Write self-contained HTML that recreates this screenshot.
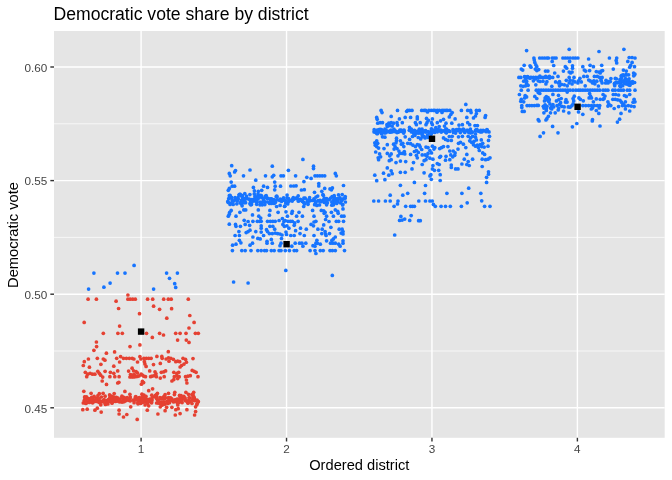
<!DOCTYPE html><html><head><meta charset="utf-8"><title>Democratic vote share by district</title><style>html,body{margin:0;padding:0;background:#fff;}svg{display:block;will-change:transform;}text{font-family:"Liberation Sans",Arial,sans-serif;}</style></head><body><svg width="672" height="480" viewBox="0 0 672 480"><rect x="54.0" y="31.0" width="610.67" height="406.80" fill="#E5E5E5"/><line x1="54.0" x2="664.67" y1="123.80" y2="123.80" stroke="#fff" stroke-width="0.71"/><line x1="54.0" x2="664.67" y1="237.40" y2="237.40" stroke="#fff" stroke-width="0.71"/><line x1="54.0" x2="664.67" y1="351.00" y2="351.00" stroke="#fff" stroke-width="0.71"/><line x1="54.0" x2="664.67" y1="67.00" y2="67.00" stroke="#fff" stroke-width="1.42"/><line x1="54.0" x2="664.67" y1="180.60" y2="180.60" stroke="#fff" stroke-width="1.42"/><line x1="54.0" x2="664.67" y1="294.20" y2="294.20" stroke="#fff" stroke-width="1.42"/><line x1="54.0" x2="664.67" y1="407.80" y2="407.80" stroke="#fff" stroke-width="1.42"/><line x1="141.10" x2="141.10" y1="31.0" y2="437.8" stroke="#fff" stroke-width="1.42"/><line x1="286.53" x2="286.53" y1="31.0" y2="437.8" stroke="#fff" stroke-width="1.42"/><line x1="431.96" x2="431.96" y1="31.0" y2="437.8" stroke="#fff" stroke-width="1.42"/><line x1="577.39" x2="577.39" y1="31.0" y2="437.8" stroke="#fff" stroke-width="1.42"/><g fill="#E54132"><circle cx="88.1" cy="299.2" r="1.85"/><circle cx="96.4" cy="299.2" r="1.85"/><circle cx="127.9" cy="299.2" r="1.85"/><circle cx="130.2" cy="299.2" r="1.85"/><circle cx="132.7" cy="299.2" r="1.85"/><circle cx="135.3" cy="299.2" r="1.85"/><circle cx="147.6" cy="299.2" r="1.85"/><circle cx="152.7" cy="299.2" r="1.85"/><circle cx="163.7" cy="299.2" r="1.85"/><circle cx="168.3" cy="299.2" r="1.85"/><circle cx="171.2" cy="299.2" r="1.85"/><circle cx="188.3" cy="299.2" r="1.85"/><circle cx="127.9" cy="295.0" r="1.85"/><circle cx="116.1" cy="301.2" r="1.85"/><circle cx="118.6" cy="308.5" r="1.85"/><circle cx="153.6" cy="306.2" r="1.85"/><circle cx="159.6" cy="309.3" r="1.85"/><circle cx="171.6" cy="308.7" r="1.85"/><circle cx="139.5" cy="313.7" r="1.85"/><circle cx="189.8" cy="315.5" r="1.85"/><circle cx="166.8" cy="318.2" r="1.85"/><circle cx="84.2" cy="322.4" r="1.85"/><circle cx="194.1" cy="322.4" r="1.85"/><circle cx="119.6" cy="326.1" r="1.85"/><circle cx="189.0" cy="328.0" r="1.85"/><circle cx="103.3" cy="333.3" r="1.85"/><circle cx="117.9" cy="333.3" r="1.85"/><circle cx="122.3" cy="333.3" r="1.85"/><circle cx="146.5" cy="333.3" r="1.85"/><circle cx="159.6" cy="333.3" r="1.85"/><circle cx="175.7" cy="333.3" r="1.85"/><circle cx="180.1" cy="333.3" r="1.85"/><circle cx="186.0" cy="333.3" r="1.85"/><circle cx="195.4" cy="333.3" r="1.85"/><circle cx="198.3" cy="333.3" r="1.85"/><circle cx="163.5" cy="335.0" r="1.85"/><circle cx="152.3" cy="337.4" r="1.85"/><circle cx="177.6" cy="340.1" r="1.85"/><circle cx="186.3" cy="340.1" r="1.85"/><circle cx="189.0" cy="342.4" r="1.85"/><circle cx="96.4" cy="342.0" r="1.85"/><circle cx="96.6" cy="346.6" r="1.85"/><circle cx="93.9" cy="350.3" r="1.85"/><circle cx="130.0" cy="346.6" r="1.85"/><circle cx="139.9" cy="344.9" r="1.85"/><circle cx="114.6" cy="351.9" r="1.85"/><circle cx="106.4" cy="353.2" r="1.85"/><circle cx="168.3" cy="351.7" r="1.85"/><circle cx="88.4" cy="359.0" r="1.85"/><circle cx="97.3" cy="358.3" r="1.85"/><circle cx="103.3" cy="359.0" r="1.85"/><circle cx="104.9" cy="360.2" r="1.85"/><circle cx="116.7" cy="358.3" r="1.85"/><circle cx="120.6" cy="356.6" r="1.85"/><circle cx="123.5" cy="358.3" r="1.85"/><circle cx="126.4" cy="358.3" r="1.85"/><circle cx="129.3" cy="358.3" r="1.85"/><circle cx="132.2" cy="358.3" r="1.85"/><circle cx="133.9" cy="359.0" r="1.85"/><circle cx="139.9" cy="356.6" r="1.85"/><circle cx="140.9" cy="359.0" r="1.85"/><circle cx="119.6" cy="362.0" r="1.85"/><circle cx="137.5" cy="362.0" r="1.85"/><circle cx="84.3" cy="361.7" r="1.85"/><circle cx="83.3" cy="365.5" r="1.85"/><circle cx="89.4" cy="367.2" r="1.85"/><circle cx="100.9" cy="364.3" r="1.85"/><circle cx="113.8" cy="366.2" r="1.85"/><circle cx="85.3" cy="372.3" r="1.85"/><circle cx="87.7" cy="374.2" r="1.85"/><circle cx="90.1" cy="373.3" r="1.85"/><circle cx="92.5" cy="374.2" r="1.85"/><circle cx="94.9" cy="374.2" r="1.85"/><circle cx="86.7" cy="376.7" r="1.85"/><circle cx="97.8" cy="371.3" r="1.85"/><circle cx="99.3" cy="373.3" r="1.85"/><circle cx="100.7" cy="375.2" r="1.85"/><circle cx="102.7" cy="377.1" r="1.85"/><circle cx="105.1" cy="371.3" r="1.85"/><circle cx="110.4" cy="372.3" r="1.85"/><circle cx="113.8" cy="373.3" r="1.85"/><circle cx="114.8" cy="376.7" r="1.85"/><circle cx="109.9" cy="376.7" r="1.85"/><circle cx="117.7" cy="370.9" r="1.85"/><circle cx="119.1" cy="376.7" r="1.85"/><circle cx="102.2" cy="381.0" r="1.85"/><circle cx="106.5" cy="384.4" r="1.85"/><circle cx="117.7" cy="383.0" r="1.85"/><circle cx="132.1" cy="368.2" r="1.85"/><circle cx="128.6" cy="371.1" r="1.85"/><circle cx="133.6" cy="370.8" r="1.85"/><circle cx="136.1" cy="371.7" r="1.85"/><circle cx="137.4" cy="372.9" r="1.85"/><circle cx="130.5" cy="374.5" r="1.85"/><circle cx="132.4" cy="375.1" r="1.85"/><circle cx="134.2" cy="374.5" r="1.85"/><circle cx="129.9" cy="377.0" r="1.85"/><circle cx="131.8" cy="377.0" r="1.85"/><circle cx="133.6" cy="377.0" r="1.85"/><circle cx="135.5" cy="376.7" r="1.85"/><circle cx="137.4" cy="376.4" r="1.85"/><circle cx="139.2" cy="375.8" r="1.85"/><circle cx="141.1" cy="374.2" r="1.85"/><circle cx="142.4" cy="375.1" r="1.85"/><circle cx="143.6" cy="376.1" r="1.85"/><circle cx="145.5" cy="376.7" r="1.85"/><circle cx="142.4" cy="381.4" r="1.85"/><circle cx="143.6" cy="382.6" r="1.85"/><circle cx="141.4" cy="384.2" r="1.85"/><circle cx="118.9" cy="382.3" r="1.85"/><circle cx="144.9" cy="363.9" r="1.85"/><circle cx="146.1" cy="366.4" r="1.85"/><circle cx="124.9" cy="391.4" r="1.85"/><circle cx="143.9" cy="358.3" r="1.85"/><circle cx="146.3" cy="358.3" r="1.85"/><circle cx="148.7" cy="358.3" r="1.85"/><circle cx="151.1" cy="358.3" r="1.85"/><circle cx="156.9" cy="356.4" r="1.85"/><circle cx="161.8" cy="356.4" r="1.85"/><circle cx="162.2" cy="358.3" r="1.85"/><circle cx="166.1" cy="359.0" r="1.85"/><circle cx="168.5" cy="357.8" r="1.85"/><circle cx="170.9" cy="358.3" r="1.85"/><circle cx="173.4" cy="359.3" r="1.85"/><circle cx="175.8" cy="361.7" r="1.85"/><circle cx="177.7" cy="361.2" r="1.85"/><circle cx="179.7" cy="361.7" r="1.85"/><circle cx="169.0" cy="361.2" r="1.85"/><circle cx="183.0" cy="358.3" r="1.85"/><circle cx="185.5" cy="359.3" r="1.85"/><circle cx="186.4" cy="362.2" r="1.85"/><circle cx="184.0" cy="364.1" r="1.85"/><circle cx="181.6" cy="365.5" r="1.85"/><circle cx="180.1" cy="367.0" r="1.85"/><circle cx="193.0" cy="358.6" r="1.85"/><circle cx="144.4" cy="361.7" r="1.85"/><circle cx="153.5" cy="364.6" r="1.85"/><circle cx="160.3" cy="363.4" r="1.85"/><circle cx="149.7" cy="370.9" r="1.85"/><circle cx="155.0" cy="371.8" r="1.85"/><circle cx="156.0" cy="373.8" r="1.85"/><circle cx="154.5" cy="375.7" r="1.85"/><circle cx="161.3" cy="372.3" r="1.85"/><circle cx="163.7" cy="371.8" r="1.85"/><circle cx="165.6" cy="370.9" r="1.85"/><circle cx="150.6" cy="376.7" r="1.85"/><circle cx="152.1" cy="376.2" r="1.85"/><circle cx="156.4" cy="376.7" r="1.85"/><circle cx="160.3" cy="378.1" r="1.85"/><circle cx="164.2" cy="376.7" r="1.85"/><circle cx="173.8" cy="372.3" r="1.85"/><circle cx="176.8" cy="373.3" r="1.85"/><circle cx="178.7" cy="372.3" r="1.85"/><circle cx="174.3" cy="376.7" r="1.85"/><circle cx="176.8" cy="375.7" r="1.85"/><circle cx="179.2" cy="376.7" r="1.85"/><circle cx="177.7" cy="378.6" r="1.85"/><circle cx="173.8" cy="379.6" r="1.85"/><circle cx="171.9" cy="381.0" r="1.85"/><circle cx="185.5" cy="376.7" r="1.85"/><circle cx="187.9" cy="376.2" r="1.85"/><circle cx="190.3" cy="375.7" r="1.85"/><circle cx="192.2" cy="370.4" r="1.85"/><circle cx="194.2" cy="371.3" r="1.85"/><circle cx="196.1" cy="372.3" r="1.85"/><circle cx="198.0" cy="376.7" r="1.85"/><circle cx="186.4" cy="380.0" r="1.85"/><circle cx="186.9" cy="383.0" r="1.85"/><circle cx="152.6" cy="388.8" r="1.85"/><circle cx="148.7" cy="390.7" r="1.85"/><circle cx="82.8" cy="409.7" r="1.85"/><circle cx="87.2" cy="409.2" r="1.85"/><circle cx="94.9" cy="410.2" r="1.85"/><circle cx="97.3" cy="408.2" r="1.85"/><circle cx="101.2" cy="412.1" r="1.85"/><circle cx="119.1" cy="410.2" r="1.85"/><circle cx="119.1" cy="414.0" r="1.85"/><circle cx="123.5" cy="417.0" r="1.85"/><circle cx="126.8" cy="414.5" r="1.85"/><circle cx="130.7" cy="406.8" r="1.85"/><circle cx="137.2" cy="419.4" r="1.85"/><circle cx="83.3" cy="402.9" r="1.85"/><circle cx="103.1" cy="393.3" r="1.85"/><circle cx="99.3" cy="393.7" r="1.85"/><circle cx="91.1" cy="393.3" r="1.85"/><circle cx="83.8" cy="391.3" r="1.85"/><circle cx="147.3" cy="410.2" r="1.85"/><circle cx="148.7" cy="405.8" r="1.85"/><circle cx="157.9" cy="414.0" r="1.85"/><circle cx="160.3" cy="406.8" r="1.85"/><circle cx="165.1" cy="410.7" r="1.85"/><circle cx="166.6" cy="407.3" r="1.85"/><circle cx="171.9" cy="407.3" r="1.85"/><circle cx="175.8" cy="409.7" r="1.85"/><circle cx="178.2" cy="408.7" r="1.85"/><circle cx="175.3" cy="415.0" r="1.85"/><circle cx="180.1" cy="413.6" r="1.85"/><circle cx="186.9" cy="409.7" r="1.85"/><circle cx="195.6" cy="406.8" r="1.85"/><circle cx="195.6" cy="411.6" r="1.85"/><circle cx="194.6" cy="415.0" r="1.85"/><circle cx="157.4" cy="393.3" r="1.85"/><circle cx="168.5" cy="393.3" r="1.85"/><circle cx="174.8" cy="392.3" r="1.85"/><circle cx="185.9" cy="392.3" r="1.85"/><circle cx="193.7" cy="392.3" r="1.85"/><circle cx="141.9" cy="394.2" r="1.85"/><circle cx="121.6" cy="401.9" r="1.85"/><circle cx="92.6" cy="402.8" r="1.85"/><circle cx="146.0" cy="399.0" r="1.85"/><circle cx="142.8" cy="400.3" r="1.85"/><circle cx="88.6" cy="398.7" r="1.85"/><circle cx="94.8" cy="400.0" r="1.85"/><circle cx="133.2" cy="400.2" r="1.85"/><circle cx="110.0" cy="398.4" r="1.85"/><circle cx="156.6" cy="403.0" r="1.85"/><circle cx="130.0" cy="398.5" r="1.85"/><circle cx="196.8" cy="404.7" r="1.85"/><circle cx="117.7" cy="401.1" r="1.85"/><circle cx="100.9" cy="401.3" r="1.85"/><circle cx="178.3" cy="401.2" r="1.85"/><circle cx="105.1" cy="396.2" r="1.85"/><circle cx="127.2" cy="397.7" r="1.85"/><circle cx="147.4" cy="400.5" r="1.85"/><circle cx="108.0" cy="400.0" r="1.85"/><circle cx="162.7" cy="397.5" r="1.85"/><circle cx="151.8" cy="400.6" r="1.85"/><circle cx="136.5" cy="398.1" r="1.85"/><circle cx="164.8" cy="404.2" r="1.85"/><circle cx="112.4" cy="396.7" r="1.85"/><circle cx="185.1" cy="398.1" r="1.85"/><circle cx="168.3" cy="397.8" r="1.85"/><circle cx="97.9" cy="395.6" r="1.85"/><circle cx="101.8" cy="401.8" r="1.85"/><circle cx="140.6" cy="403.5" r="1.85"/><circle cx="172.4" cy="400.6" r="1.85"/><circle cx="150.3" cy="401.3" r="1.85"/><circle cx="164.4" cy="397.9" r="1.85"/><circle cx="152.8" cy="397.0" r="1.85"/><circle cx="181.1" cy="398.2" r="1.85"/><circle cx="193.1" cy="395.7" r="1.85"/><circle cx="91.3" cy="400.2" r="1.85"/><circle cx="165.1" cy="394.5" r="1.85"/><circle cx="179.0" cy="399.0" r="1.85"/><circle cx="161.3" cy="402.2" r="1.85"/><circle cx="86.9" cy="398.0" r="1.85"/><circle cx="97.8" cy="400.0" r="1.85"/><circle cx="91.1" cy="399.8" r="1.85"/><circle cx="112.8" cy="398.2" r="1.85"/><circle cx="129.3" cy="400.4" r="1.85"/><circle cx="136.0" cy="398.8" r="1.85"/><circle cx="147.6" cy="403.3" r="1.85"/><circle cx="183.8" cy="396.3" r="1.85"/><circle cx="116.4" cy="397.4" r="1.85"/><circle cx="186.2" cy="400.9" r="1.85"/><circle cx="194.6" cy="400.6" r="1.85"/><circle cx="111.0" cy="401.0" r="1.85"/><circle cx="111.2" cy="396.0" r="1.85"/><circle cx="114.6" cy="399.9" r="1.85"/><circle cx="84.8" cy="397.3" r="1.85"/><circle cx="149.5" cy="400.9" r="1.85"/><circle cx="194.1" cy="398.4" r="1.85"/><circle cx="155.4" cy="396.6" r="1.85"/><circle cx="162.2" cy="405.1" r="1.85"/><circle cx="174.2" cy="401.5" r="1.85"/><circle cx="185.0" cy="400.4" r="1.85"/><circle cx="130.3" cy="397.0" r="1.85"/><circle cx="96.2" cy="399.0" r="1.85"/><circle cx="92.1" cy="398.9" r="1.85"/><circle cx="108.3" cy="400.9" r="1.85"/><circle cx="90.4" cy="401.7" r="1.85"/><circle cx="84.3" cy="400.3" r="1.85"/><circle cx="126.2" cy="400.6" r="1.85"/><circle cx="87.2" cy="402.2" r="1.85"/><circle cx="101.4" cy="397.0" r="1.85"/><circle cx="113.4" cy="398.1" r="1.85"/><circle cx="98.5" cy="401.7" r="1.85"/><circle cx="182.1" cy="402.6" r="1.85"/><circle cx="140.0" cy="399.5" r="1.85"/><circle cx="94.2" cy="401.6" r="1.85"/><circle cx="114.8" cy="401.1" r="1.85"/><circle cx="179.8" cy="399.9" r="1.85"/><circle cx="193.9" cy="400.1" r="1.85"/><circle cx="145.2" cy="401.6" r="1.85"/><circle cx="87.4" cy="402.3" r="1.85"/><circle cx="145.1" cy="404.9" r="1.85"/><circle cx="164.5" cy="398.9" r="1.85"/><circle cx="114.4" cy="398.5" r="1.85"/><circle cx="173.2" cy="400.8" r="1.85"/><circle cx="145.7" cy="400.0" r="1.85"/><circle cx="110.0" cy="397.2" r="1.85"/><circle cx="177.8" cy="404.9" r="1.85"/><circle cx="177.2" cy="399.1" r="1.85"/><circle cx="178.6" cy="399.5" r="1.85"/><circle cx="143.9" cy="397.7" r="1.85"/><circle cx="125.3" cy="400.2" r="1.85"/><circle cx="116.5" cy="399.7" r="1.85"/><circle cx="114.2" cy="397.2" r="1.85"/><circle cx="135.8" cy="396.5" r="1.85"/><circle cx="194.3" cy="398.3" r="1.85"/><circle cx="110.4" cy="401.0" r="1.85"/><circle cx="107.0" cy="400.7" r="1.85"/><circle cx="188.0" cy="403.2" r="1.85"/><circle cx="181.1" cy="395.7" r="1.85"/><circle cx="176.4" cy="400.1" r="1.85"/><circle cx="94.1" cy="396.4" r="1.85"/><circle cx="174.4" cy="394.6" r="1.85"/><circle cx="170.7" cy="397.9" r="1.85"/><circle cx="175.2" cy="399.8" r="1.85"/><circle cx="122.6" cy="401.9" r="1.85"/><circle cx="129.9" cy="394.3" r="1.85"/><circle cx="167.8" cy="403.4" r="1.85"/><circle cx="103.9" cy="400.7" r="1.85"/><circle cx="188.5" cy="400.7" r="1.85"/><circle cx="177.2" cy="402.7" r="1.85"/><circle cx="197.2" cy="403.6" r="1.85"/><circle cx="160.0" cy="397.6" r="1.85"/><circle cx="99.4" cy="402.4" r="1.85"/><circle cx="85.9" cy="403.4" r="1.85"/><circle cx="145.0" cy="398.9" r="1.85"/><circle cx="191.9" cy="394.6" r="1.85"/><circle cx="179.5" cy="401.8" r="1.85"/><circle cx="108.6" cy="399.6" r="1.85"/><circle cx="112.0" cy="401.8" r="1.85"/><circle cx="151.9" cy="399.4" r="1.85"/><circle cx="99.4" cy="402.4" r="1.85"/><circle cx="189.1" cy="397.8" r="1.85"/><circle cx="151.5" cy="402.0" r="1.85"/><circle cx="188.5" cy="394.3" r="1.85"/><circle cx="142.1" cy="402.5" r="1.85"/><circle cx="145.6" cy="399.1" r="1.85"/><circle cx="135.0" cy="399.5" r="1.85"/><circle cx="105.4" cy="404.4" r="1.85"/><circle cx="104.2" cy="399.7" r="1.85"/><circle cx="138.8" cy="399.1" r="1.85"/><circle cx="121.9" cy="396.2" r="1.85"/><circle cx="144.0" cy="395.2" r="1.85"/><circle cx="96.5" cy="398.0" r="1.85"/><circle cx="148.8" cy="399.6" r="1.85"/><circle cx="173.3" cy="401.8" r="1.85"/><circle cx="142.8" cy="395.4" r="1.85"/><circle cx="189.4" cy="397.9" r="1.85"/><circle cx="135.4" cy="397.2" r="1.85"/><circle cx="143.3" cy="397.5" r="1.85"/><circle cx="164.1" cy="396.4" r="1.85"/><circle cx="139.4" cy="400.6" r="1.85"/><circle cx="192.8" cy="397.9" r="1.85"/><circle cx="192.8" cy="394.4" r="1.85"/><circle cx="114.2" cy="393.6" r="1.85"/><circle cx="181.1" cy="397.2" r="1.85"/><circle cx="100.1" cy="401.7" r="1.85"/><circle cx="92.7" cy="401.6" r="1.85"/><circle cx="112.0" cy="403.2" r="1.85"/><circle cx="174.6" cy="401.4" r="1.85"/><circle cx="187.6" cy="402.0" r="1.85"/><circle cx="160.4" cy="403.1" r="1.85"/><circle cx="100.8" cy="404.8" r="1.85"/><circle cx="109.6" cy="394.9" r="1.85"/><circle cx="194.0" cy="397.1" r="1.85"/><circle cx="198.3" cy="401.5" r="1.85"/><circle cx="180.2" cy="401.1" r="1.85"/><circle cx="143.7" cy="402.0" r="1.85"/><circle cx="123.4" cy="400.4" r="1.85"/><circle cx="167.5" cy="401.8" r="1.85"/><circle cx="86.5" cy="396.9" r="1.85"/><circle cx="86.4" cy="398.6" r="1.85"/><circle cx="122.5" cy="397.3" r="1.85"/><circle cx="91.7" cy="397.3" r="1.85"/><circle cx="197.8" cy="401.3" r="1.85"/><circle cx="96.4" cy="399.5" r="1.85"/><circle cx="174.0" cy="400.4" r="1.85"/><circle cx="115.5" cy="401.5" r="1.85"/><circle cx="189.3" cy="401.7" r="1.85"/><circle cx="178.6" cy="399.5" r="1.85"/><circle cx="190.2" cy="401.1" r="1.85"/><circle cx="150.0" cy="399.2" r="1.85"/><circle cx="90.9" cy="398.5" r="1.85"/><circle cx="163.6" cy="398.7" r="1.85"/><circle cx="192.4" cy="400.1" r="1.85"/><circle cx="157.4" cy="400.0" r="1.85"/><circle cx="182.9" cy="398.5" r="1.85"/><circle cx="92.0" cy="401.5" r="1.85"/><circle cx="123.4" cy="397.3" r="1.85"/><circle cx="148.0" cy="401.5" r="1.85"/><circle cx="99.2" cy="398.7" r="1.85"/><circle cx="145.0" cy="399.7" r="1.85"/><circle cx="102.9" cy="400.9" r="1.85"/><circle cx="90.1" cy="400.3" r="1.85"/><circle cx="119.4" cy="401.8" r="1.85"/><circle cx="171.8" cy="398.8" r="1.85"/><circle cx="104.8" cy="402.7" r="1.85"/><circle cx="124.3" cy="401.6" r="1.85"/><circle cx="86.1" cy="399.8" r="1.85"/><circle cx="168.8" cy="397.9" r="1.85"/><circle cx="139.0" cy="399.0" r="1.85"/><circle cx="192.0" cy="403.5" r="1.85"/><circle cx="134.1" cy="402.7" r="1.85"/><circle cx="141.3" cy="401.0" r="1.85"/><circle cx="142.7" cy="397.3" r="1.85"/><circle cx="163.5" cy="402.1" r="1.85"/><circle cx="180.2" cy="399.3" r="1.85"/><circle cx="165.7" cy="397.8" r="1.85"/><circle cx="124.3" cy="397.5" r="1.85"/><circle cx="90.6" cy="400.3" r="1.85"/><circle cx="169.7" cy="400.4" r="1.85"/><circle cx="113.7" cy="400.2" r="1.85"/><circle cx="181.2" cy="400.6" r="1.85"/><circle cx="184.6" cy="398.5" r="1.85"/><circle cx="112.2" cy="397.7" r="1.85"/><circle cx="118.1" cy="398.1" r="1.85"/><circle cx="135.7" cy="400.0" r="1.85"/><circle cx="114.6" cy="397.9" r="1.85"/><circle cx="147.3" cy="399.8" r="1.85"/><circle cx="120.0" cy="399.5" r="1.85"/><circle cx="128.3" cy="399.7" r="1.85"/><circle cx="139.0" cy="397.8" r="1.85"/><circle cx="142.4" cy="399.6" r="1.85"/><circle cx="84.9" cy="399.5" r="1.85"/><circle cx="130.3" cy="400.8" r="1.85"/><circle cx="89.1" cy="401.9" r="1.85"/><circle cx="111.1" cy="399.9" r="1.85"/><circle cx="151.8" cy="395.2" r="1.85"/><circle cx="160.0" cy="398.8" r="1.85"/><circle cx="166.8" cy="401.5" r="1.85"/><circle cx="121.9" cy="397.8" r="1.85"/><circle cx="197.7" cy="402.2" r="1.85"/><circle cx="158.4" cy="403.1" r="1.85"/><circle cx="89.3" cy="402.5" r="1.85"/><circle cx="156.6" cy="394.7" r="1.85"/><circle cx="168.8" cy="400.2" r="1.85"/><circle cx="144.6" cy="398.2" r="1.85"/><circle cx="142.4" cy="402.1" r="1.85"/><circle cx="179.5" cy="395.4" r="1.85"/><circle cx="151.6" cy="402.8" r="1.85"/><circle cx="164.2" cy="397.0" r="1.85"/><circle cx="110.8" cy="401.0" r="1.85"/><circle cx="125.9" cy="399.9" r="1.85"/><circle cx="96.4" cy="401.4" r="1.85"/><circle cx="156.6" cy="396.6" r="1.85"/><circle cx="156.4" cy="398.3" r="1.85"/><circle cx="84.7" cy="396.8" r="1.85"/><circle cx="176.2" cy="399.6" r="1.85"/><circle cx="146.0" cy="396.4" r="1.85"/><circle cx="160.3" cy="403.6" r="1.85"/><circle cx="113.4" cy="401.4" r="1.85"/><circle cx="92.9" cy="399.2" r="1.85"/><circle cx="107.9" cy="403.9" r="1.85"/><circle cx="169.5" cy="402.7" r="1.85"/><circle cx="128.4" cy="399.1" r="1.85"/><circle cx="139.5" cy="397.7" r="1.85"/><circle cx="155.4" cy="395.4" r="1.85"/><circle cx="158.3" cy="400.9" r="1.85"/><circle cx="113.6" cy="400.3" r="1.85"/><circle cx="169.9" cy="398.4" r="1.85"/><circle cx="85.7" cy="402.9" r="1.85"/><circle cx="91.3" cy="399.1" r="1.85"/><circle cx="164.0" cy="403.6" r="1.85"/><circle cx="162.1" cy="398.8" r="1.85"/><circle cx="137.8" cy="402.7" r="1.85"/><circle cx="138.0" cy="403.8" r="1.85"/><circle cx="107.3" cy="403.5" r="1.85"/><circle cx="197.0" cy="400.1" r="1.85"/><circle cx="137.2" cy="399.4" r="1.85"/><circle cx="178.8" cy="402.5" r="1.85"/><circle cx="115.2" cy="399.0" r="1.85"/><circle cx="108.5" cy="401.3" r="1.85"/><circle cx="151.3" cy="399.0" r="1.85"/></g><g fill="#1674FF"><circle cx="134.1" cy="265.4" r="1.85"/><circle cx="93.9" cy="273.1" r="1.85"/><circle cx="117.5" cy="273.1" r="1.85"/><circle cx="125.0" cy="273.1" r="1.85"/><circle cx="166.6" cy="273.1" r="1.85"/><circle cx="177.4" cy="273.1" r="1.85"/><circle cx="169.5" cy="278.3" r="1.85"/><circle cx="110.1" cy="283.1" r="1.85"/><circle cx="103.9" cy="287.2" r="1.85"/><circle cx="174.7" cy="283.7" r="1.85"/><circle cx="175.7" cy="287.4" r="1.85"/><circle cx="88.6" cy="289.1" r="1.85"/><circle cx="153.6" cy="289.1" r="1.85"/><circle cx="231.7" cy="165.7" r="1.85"/><circle cx="234.6" cy="172.0" r="1.85"/><circle cx="235.5" cy="170.5" r="1.85"/><circle cx="229.3" cy="173.4" r="1.85"/><circle cx="230.2" cy="175.8" r="1.85"/><circle cx="250.0" cy="170.0" r="1.85"/><circle cx="243.5" cy="175.8" r="1.85"/><circle cx="272.3" cy="166.2" r="1.85"/><circle cx="265.5" cy="175.8" r="1.85"/><circle cx="272.3" cy="176.8" r="1.85"/><circle cx="273.7" cy="175.3" r="1.85"/><circle cx="281.0" cy="175.8" r="1.85"/><circle cx="283.4" cy="175.8" r="1.85"/><circle cx="255.8" cy="180.2" r="1.85"/><circle cx="231.2" cy="182.1" r="1.85"/><circle cx="232.2" cy="186.2" r="1.85"/><circle cx="234.6" cy="186.2" r="1.85"/><circle cx="229.3" cy="188.4" r="1.85"/><circle cx="228.3" cy="190.3" r="1.85"/><circle cx="253.4" cy="187.4" r="1.85"/><circle cx="254.4" cy="190.8" r="1.85"/><circle cx="258.3" cy="191.3" r="1.85"/><circle cx="261.7" cy="190.3" r="1.85"/><circle cx="263.6" cy="186.2" r="1.85"/><circle cx="267.5" cy="187.4" r="1.85"/><circle cx="274.7" cy="182.1" r="1.85"/><circle cx="275.2" cy="186.2" r="1.85"/><circle cx="274.7" cy="189.8" r="1.85"/><circle cx="280.5" cy="186.2" r="1.85"/><circle cx="302.9" cy="159.4" r="1.85"/><circle cx="313.5" cy="166.2" r="1.85"/><circle cx="313.5" cy="168.6" r="1.85"/><circle cx="288.4" cy="170.3" r="1.85"/><circle cx="295.6" cy="175.8" r="1.85"/><circle cx="306.8" cy="177.3" r="1.85"/><circle cx="311.1" cy="178.4" r="1.85"/><circle cx="315.0" cy="175.8" r="1.85"/><circle cx="317.4" cy="175.8" r="1.85"/><circle cx="319.8" cy="175.8" r="1.85"/><circle cx="322.2" cy="175.8" r="1.85"/><circle cx="324.7" cy="175.8" r="1.85"/><circle cx="335.3" cy="173.4" r="1.85"/><circle cx="336.3" cy="175.8" r="1.85"/><circle cx="303.9" cy="181.6" r="1.85"/><circle cx="290.8" cy="186.0" r="1.85"/><circle cx="293.7" cy="186.0" r="1.85"/><circle cx="296.1" cy="185.8" r="1.85"/><circle cx="301.4" cy="190.0" r="1.85"/><circle cx="304.3" cy="189.7" r="1.85"/><circle cx="318.8" cy="183.6" r="1.85"/><circle cx="318.8" cy="186.0" r="1.85"/><circle cx="324.7" cy="188.4" r="1.85"/><circle cx="321.8" cy="191.3" r="1.85"/><circle cx="330.0" cy="188.9" r="1.85"/><circle cx="332.4" cy="187.9" r="1.85"/><circle cx="331.4" cy="189.8" r="1.85"/><circle cx="343.5" cy="185.5" r="1.85"/><circle cx="314.5" cy="192.3" r="1.85"/><circle cx="231.2" cy="210.4" r="1.85"/><circle cx="229.7" cy="212.3" r="1.85"/><circle cx="229.3" cy="214.2" r="1.85"/><circle cx="228.3" cy="216.2" r="1.85"/><circle cx="239.9" cy="212.3" r="1.85"/><circle cx="243.8" cy="209.9" r="1.85"/><circle cx="245.7" cy="209.9" r="1.85"/><circle cx="236.0" cy="216.2" r="1.85"/><circle cx="252.5" cy="214.9" r="1.85"/><circle cx="258.3" cy="209.9" r="1.85"/><circle cx="269.9" cy="210.4" r="1.85"/><circle cx="269.4" cy="215.2" r="1.85"/><circle cx="278.1" cy="212.3" r="1.85"/><circle cx="258.8" cy="216.2" r="1.85"/><circle cx="260.7" cy="218.1" r="1.85"/><circle cx="244.2" cy="220.3" r="1.85"/><circle cx="248.1" cy="221.5" r="1.85"/><circle cx="252.9" cy="221.3" r="1.85"/><circle cx="257.3" cy="221.3" r="1.85"/><circle cx="259.7" cy="221.3" r="1.85"/><circle cx="261.2" cy="221.3" r="1.85"/><circle cx="267.5" cy="221.3" r="1.85"/><circle cx="270.4" cy="221.3" r="1.85"/><circle cx="272.8" cy="221.3" r="1.85"/><circle cx="275.2" cy="221.3" r="1.85"/><circle cx="279.1" cy="220.5" r="1.85"/><circle cx="282.4" cy="218.6" r="1.85"/><circle cx="283.9" cy="221.5" r="1.85"/><circle cx="285.3" cy="220.5" r="1.85"/><circle cx="229.3" cy="224.2" r="1.85"/><circle cx="235.5" cy="224.4" r="1.85"/><circle cx="236.0" cy="226.3" r="1.85"/><circle cx="240.4" cy="226.3" r="1.85"/><circle cx="245.2" cy="224.4" r="1.85"/><circle cx="249.6" cy="225.3" r="1.85"/><circle cx="261.2" cy="225.8" r="1.85"/><circle cx="261.2" cy="228.2" r="1.85"/><circle cx="269.9" cy="226.3" r="1.85"/><circle cx="272.8" cy="226.3" r="1.85"/><circle cx="274.7" cy="229.2" r="1.85"/><circle cx="282.9" cy="224.4" r="1.85"/><circle cx="284.4" cy="226.3" r="1.85"/><circle cx="238.9" cy="231.6" r="1.85"/><circle cx="246.2" cy="232.6" r="1.85"/><circle cx="248.1" cy="231.6" r="1.85"/><circle cx="250.0" cy="230.2" r="1.85"/><circle cx="255.8" cy="231.6" r="1.85"/><circle cx="261.2" cy="232.1" r="1.85"/><circle cx="266.5" cy="229.7" r="1.85"/><circle cx="267.5" cy="231.6" r="1.85"/><circle cx="269.4" cy="233.6" r="1.85"/><circle cx="272.3" cy="233.6" r="1.85"/><circle cx="275.2" cy="233.1" r="1.85"/><circle cx="277.6" cy="233.6" r="1.85"/><circle cx="280.0" cy="234.0" r="1.85"/><circle cx="282.0" cy="235.0" r="1.85"/><circle cx="263.6" cy="235.5" r="1.85"/><circle cx="235.1" cy="235.5" r="1.85"/><circle cx="239.4" cy="235.5" r="1.85"/><circle cx="252.9" cy="237.0" r="1.85"/><circle cx="257.8" cy="238.4" r="1.85"/><circle cx="260.2" cy="238.9" r="1.85"/><circle cx="239.4" cy="240.3" r="1.85"/><circle cx="240.9" cy="242.8" r="1.85"/><circle cx="236.0" cy="244.2" r="1.85"/><circle cx="232.6" cy="245.2" r="1.85"/><circle cx="252.5" cy="243.2" r="1.85"/><circle cx="250.0" cy="245.2" r="1.85"/><circle cx="267.0" cy="241.3" r="1.85"/><circle cx="267.0" cy="243.2" r="1.85"/><circle cx="271.3" cy="239.4" r="1.85"/><circle cx="272.3" cy="243.2" r="1.85"/><circle cx="281.0" cy="243.2" r="1.85"/><circle cx="292.3" cy="211.3" r="1.85"/><circle cx="291.8" cy="213.3" r="1.85"/><circle cx="299.0" cy="212.3" r="1.85"/><circle cx="312.6" cy="210.4" r="1.85"/><circle cx="321.3" cy="210.4" r="1.85"/><circle cx="323.7" cy="210.8" r="1.85"/><circle cx="325.1" cy="212.3" r="1.85"/><circle cx="324.2" cy="213.3" r="1.85"/><circle cx="331.4" cy="212.3" r="1.85"/><circle cx="335.3" cy="209.9" r="1.85"/><circle cx="337.7" cy="211.3" r="1.85"/><circle cx="338.2" cy="213.3" r="1.85"/><circle cx="343.0" cy="208.9" r="1.85"/><circle cx="286.0" cy="211.8" r="1.85"/><circle cx="287.4" cy="216.2" r="1.85"/><circle cx="296.6" cy="216.2" r="1.85"/><circle cx="302.4" cy="216.2" r="1.85"/><circle cx="314.0" cy="216.2" r="1.85"/><circle cx="326.6" cy="216.2" r="1.85"/><circle cx="333.4" cy="216.2" r="1.85"/><circle cx="341.6" cy="216.2" r="1.85"/><circle cx="344.0" cy="216.2" r="1.85"/><circle cx="287.9" cy="221.3" r="1.85"/><circle cx="290.3" cy="221.3" r="1.85"/><circle cx="292.3" cy="221.3" r="1.85"/><circle cx="294.7" cy="222.9" r="1.85"/><circle cx="294.2" cy="225.3" r="1.85"/><circle cx="298.1" cy="221.3" r="1.85"/><circle cx="314.0" cy="222.0" r="1.85"/><circle cx="315.9" cy="221.3" r="1.85"/><circle cx="325.6" cy="219.5" r="1.85"/><circle cx="329.0" cy="221.5" r="1.85"/><circle cx="336.3" cy="221.3" r="1.85"/><circle cx="338.7" cy="221.3" r="1.85"/><circle cx="343.5" cy="221.3" r="1.85"/><circle cx="311.1" cy="224.4" r="1.85"/><circle cx="313.5" cy="225.8" r="1.85"/><circle cx="323.7" cy="224.9" r="1.85"/><circle cx="286.9" cy="225.8" r="1.85"/><circle cx="288.9" cy="228.2" r="1.85"/><circle cx="300.5" cy="228.2" r="1.85"/><circle cx="306.3" cy="229.2" r="1.85"/><circle cx="295.6" cy="230.7" r="1.85"/><circle cx="317.9" cy="229.2" r="1.85"/><circle cx="322.2" cy="229.2" r="1.85"/><circle cx="330.9" cy="227.3" r="1.85"/><circle cx="339.2" cy="229.2" r="1.85"/><circle cx="342.1" cy="229.2" r="1.85"/><circle cx="343.0" cy="231.6" r="1.85"/><circle cx="341.1" cy="233.1" r="1.85"/><circle cx="343.0" cy="234.0" r="1.85"/><circle cx="325.1" cy="231.6" r="1.85"/><circle cx="325.6" cy="234.0" r="1.85"/><circle cx="326.1" cy="235.5" r="1.85"/><circle cx="321.8" cy="233.6" r="1.85"/><circle cx="329.5" cy="233.6" r="1.85"/><circle cx="286.0" cy="232.1" r="1.85"/><circle cx="286.5" cy="234.5" r="1.85"/><circle cx="290.8" cy="235.5" r="1.85"/><circle cx="294.2" cy="235.5" r="1.85"/><circle cx="300.0" cy="233.6" r="1.85"/><circle cx="304.3" cy="235.5" r="1.85"/><circle cx="314.0" cy="235.5" r="1.85"/><circle cx="335.3" cy="237.0" r="1.85"/><circle cx="333.4" cy="238.9" r="1.85"/><circle cx="331.9" cy="240.3" r="1.85"/><circle cx="316.9" cy="240.3" r="1.85"/><circle cx="315.9" cy="243.2" r="1.85"/><circle cx="326.6" cy="240.8" r="1.85"/><circle cx="343.0" cy="240.8" r="1.85"/><circle cx="343.0" cy="243.2" r="1.85"/><circle cx="295.2" cy="243.2" r="1.85"/><circle cx="299.5" cy="243.2" r="1.85"/><circle cx="301.9" cy="243.2" r="1.85"/><circle cx="305.8" cy="243.2" r="1.85"/><circle cx="320.3" cy="244.2" r="1.85"/><circle cx="330.5" cy="243.2" r="1.85"/><circle cx="332.9" cy="243.2" r="1.85"/><circle cx="335.3" cy="243.2" r="1.85"/><circle cx="338.7" cy="244.2" r="1.85"/><circle cx="232.4" cy="250.6" r="1.85"/><circle cx="241.8" cy="250.6" r="1.85"/><circle cx="245.2" cy="250.6" r="1.85"/><circle cx="251.0" cy="250.6" r="1.85"/><circle cx="257.8" cy="250.6" r="1.85"/><circle cx="261.2" cy="250.6" r="1.85"/><circle cx="264.6" cy="250.6" r="1.85"/><circle cx="266.5" cy="250.6" r="1.85"/><circle cx="271.3" cy="250.6" r="1.85"/><circle cx="274.2" cy="250.6" r="1.85"/><circle cx="279.1" cy="250.6" r="1.85"/><circle cx="281.0" cy="250.6" r="1.85"/><circle cx="285.3" cy="250.6" r="1.85"/><circle cx="289.4" cy="250.6" r="1.85"/><circle cx="294.2" cy="250.6" r="1.85"/><circle cx="296.6" cy="250.6" r="1.85"/><circle cx="310.1" cy="250.6" r="1.85"/><circle cx="315.0" cy="250.6" r="1.85"/><circle cx="320.3" cy="250.6" r="1.85"/><circle cx="323.2" cy="250.6" r="1.85"/><circle cx="330.0" cy="250.6" r="1.85"/><circle cx="332.4" cy="250.6" r="1.85"/><circle cx="335.3" cy="250.6" r="1.85"/><circle cx="344.5" cy="250.6" r="1.85"/><circle cx="315.9" cy="253.5" r="1.85"/><circle cx="280.0" cy="245.7" r="1.85"/><circle cx="281.5" cy="238.5" r="1.85"/><circle cx="291.8" cy="246.2" r="1.85"/><circle cx="302.9" cy="246.2" r="1.85"/><circle cx="313.0" cy="245.7" r="1.85"/><circle cx="315.0" cy="246.2" r="1.85"/><circle cx="317.4" cy="243.3" r="1.85"/><circle cx="340.1" cy="246.2" r="1.85"/><circle cx="285.8" cy="270.4" r="1.85"/><circle cx="233.6" cy="282.0" r="1.85"/><circle cx="248.1" cy="283.0" r="1.85"/><circle cx="332.3" cy="275.4" r="1.85"/><circle cx="244.2" cy="198.7" r="1.85"/><circle cx="243.1" cy="201.3" r="1.85"/><circle cx="332.1" cy="196.6" r="1.85"/><circle cx="310.5" cy="200.5" r="1.85"/><circle cx="284.9" cy="206.2" r="1.85"/><circle cx="230.4" cy="203.3" r="1.85"/><circle cx="280.7" cy="199.9" r="1.85"/><circle cx="263.1" cy="201.5" r="1.85"/><circle cx="264.8" cy="201.9" r="1.85"/><circle cx="326.6" cy="204.8" r="1.85"/><circle cx="326.5" cy="199.9" r="1.85"/><circle cx="241.7" cy="204.0" r="1.85"/><circle cx="333.9" cy="197.7" r="1.85"/><circle cx="261.7" cy="197.7" r="1.85"/><circle cx="345.4" cy="202.0" r="1.85"/><circle cx="297.0" cy="197.8" r="1.85"/><circle cx="260.0" cy="202.2" r="1.85"/><circle cx="233.2" cy="204.4" r="1.85"/><circle cx="261.2" cy="203.2" r="1.85"/><circle cx="337.9" cy="199.8" r="1.85"/><circle cx="287.8" cy="202.2" r="1.85"/><circle cx="249.9" cy="194.6" r="1.85"/><circle cx="331.8" cy="205.2" r="1.85"/><circle cx="323.3" cy="195.3" r="1.85"/><circle cx="338.5" cy="194.9" r="1.85"/><circle cx="292.3" cy="199.6" r="1.85"/><circle cx="313.9" cy="198.9" r="1.85"/><circle cx="280.7" cy="199.9" r="1.85"/><circle cx="261.3" cy="195.5" r="1.85"/><circle cx="233.3" cy="201.2" r="1.85"/><circle cx="283.2" cy="199.1" r="1.85"/><circle cx="268.1" cy="198.3" r="1.85"/><circle cx="342.7" cy="204.5" r="1.85"/><circle cx="258.2" cy="198.4" r="1.85"/><circle cx="293.3" cy="197.7" r="1.85"/><circle cx="274.0" cy="200.7" r="1.85"/><circle cx="252.0" cy="201.3" r="1.85"/><circle cx="334.4" cy="197.7" r="1.85"/><circle cx="334.4" cy="199.8" r="1.85"/><circle cx="345.1" cy="198.2" r="1.85"/><circle cx="250.2" cy="200.3" r="1.85"/><circle cx="238.2" cy="199.1" r="1.85"/><circle cx="255.7" cy="200.9" r="1.85"/><circle cx="258.0" cy="194.1" r="1.85"/><circle cx="316.0" cy="197.1" r="1.85"/><circle cx="276.2" cy="196.7" r="1.85"/><circle cx="272.0" cy="201.7" r="1.85"/><circle cx="267.4" cy="202.0" r="1.85"/><circle cx="341.7" cy="200.7" r="1.85"/><circle cx="242.4" cy="195.6" r="1.85"/><circle cx="329.3" cy="199.7" r="1.85"/><circle cx="253.0" cy="199.5" r="1.85"/><circle cx="274.7" cy="202.0" r="1.85"/><circle cx="280.1" cy="205.4" r="1.85"/><circle cx="330.5" cy="198.1" r="1.85"/><circle cx="230.1" cy="204.4" r="1.85"/><circle cx="333.2" cy="200.7" r="1.85"/><circle cx="283.3" cy="199.8" r="1.85"/><circle cx="273.7" cy="199.8" r="1.85"/><circle cx="336.9" cy="202.5" r="1.85"/><circle cx="342.2" cy="194.6" r="1.85"/><circle cx="256.8" cy="201.1" r="1.85"/><circle cx="289.1" cy="200.9" r="1.85"/><circle cx="308.0" cy="204.3" r="1.85"/><circle cx="303.9" cy="198.1" r="1.85"/><circle cx="317.7" cy="196.1" r="1.85"/><circle cx="232.2" cy="200.8" r="1.85"/><circle cx="319.8" cy="200.5" r="1.85"/><circle cx="303.7" cy="206.5" r="1.85"/><circle cx="263.3" cy="201.4" r="1.85"/><circle cx="302.6" cy="201.4" r="1.85"/><circle cx="309.9" cy="200.7" r="1.85"/><circle cx="289.4" cy="200.5" r="1.85"/><circle cx="296.3" cy="198.2" r="1.85"/><circle cx="298.4" cy="201.2" r="1.85"/><circle cx="228.7" cy="198.7" r="1.85"/><circle cx="340.7" cy="203.0" r="1.85"/><circle cx="303.6" cy="202.3" r="1.85"/><circle cx="255.2" cy="197.5" r="1.85"/><circle cx="256.7" cy="204.3" r="1.85"/><circle cx="263.8" cy="198.7" r="1.85"/><circle cx="230.1" cy="195.3" r="1.85"/><circle cx="277.1" cy="199.8" r="1.85"/><circle cx="257.9" cy="196.4" r="1.85"/><circle cx="254.3" cy="193.9" r="1.85"/><circle cx="231.5" cy="198.2" r="1.85"/><circle cx="308.0" cy="202.5" r="1.85"/><circle cx="250.9" cy="201.2" r="1.85"/><circle cx="287.1" cy="195.1" r="1.85"/><circle cx="251.7" cy="202.3" r="1.85"/><circle cx="324.3" cy="199.3" r="1.85"/><circle cx="254.7" cy="200.7" r="1.85"/><circle cx="262.3" cy="204.8" r="1.85"/><circle cx="339.8" cy="197.9" r="1.85"/><circle cx="253.9" cy="199.9" r="1.85"/><circle cx="276.7" cy="196.1" r="1.85"/><circle cx="244.8" cy="193.5" r="1.85"/><circle cx="273.9" cy="201.7" r="1.85"/><circle cx="244.2" cy="200.8" r="1.85"/><circle cx="273.9" cy="200.1" r="1.85"/><circle cx="333.5" cy="203.4" r="1.85"/><circle cx="345.2" cy="196.5" r="1.85"/><circle cx="337.4" cy="198.9" r="1.85"/><circle cx="337.9" cy="201.5" r="1.85"/><circle cx="315.6" cy="204.1" r="1.85"/><circle cx="272.2" cy="200.7" r="1.85"/><circle cx="271.6" cy="198.9" r="1.85"/><circle cx="227.8" cy="201.4" r="1.85"/><circle cx="260.5" cy="195.3" r="1.85"/><circle cx="242.1" cy="205.8" r="1.85"/><circle cx="341.3" cy="200.5" r="1.85"/><circle cx="324.4" cy="202.5" r="1.85"/><circle cx="324.5" cy="198.9" r="1.85"/><circle cx="283.4" cy="200.2" r="1.85"/><circle cx="271.5" cy="201.5" r="1.85"/><circle cx="270.5" cy="198.8" r="1.85"/><circle cx="333.3" cy="202.8" r="1.85"/><circle cx="323.3" cy="200.4" r="1.85"/><circle cx="318.0" cy="200.6" r="1.85"/><circle cx="234.9" cy="200.0" r="1.85"/><circle cx="336.1" cy="199.6" r="1.85"/><circle cx="333.5" cy="204.8" r="1.85"/><circle cx="267.5" cy="198.7" r="1.85"/><circle cx="300.3" cy="199.4" r="1.85"/><circle cx="264.8" cy="204.6" r="1.85"/><circle cx="260.0" cy="204.8" r="1.85"/><circle cx="335.6" cy="199.9" r="1.85"/><circle cx="302.3" cy="200.4" r="1.85"/><circle cx="255.1" cy="199.6" r="1.85"/><circle cx="283.6" cy="197.8" r="1.85"/><circle cx="273.1" cy="199.8" r="1.85"/><circle cx="285.7" cy="203.0" r="1.85"/><circle cx="337.0" cy="202.0" r="1.85"/><circle cx="314.6" cy="204.7" r="1.85"/><circle cx="324.6" cy="200.4" r="1.85"/><circle cx="266.2" cy="195.7" r="1.85"/><circle cx="265.2" cy="196.4" r="1.85"/><circle cx="236.8" cy="203.8" r="1.85"/><circle cx="250.8" cy="199.8" r="1.85"/><circle cx="235.1" cy="197.5" r="1.85"/><circle cx="231.5" cy="197.3" r="1.85"/><circle cx="343.2" cy="198.9" r="1.85"/><circle cx="331.8" cy="202.1" r="1.85"/><circle cx="237.4" cy="199.6" r="1.85"/><circle cx="238.9" cy="195.1" r="1.85"/><circle cx="280.2" cy="199.8" r="1.85"/><circle cx="255.1" cy="196.2" r="1.85"/><circle cx="307.0" cy="201.9" r="1.85"/><circle cx="315.8" cy="202.3" r="1.85"/><circle cx="241.8" cy="196.2" r="1.85"/><circle cx="326.7" cy="198.7" r="1.85"/><circle cx="271.5" cy="203.5" r="1.85"/><circle cx="314.6" cy="200.5" r="1.85"/><circle cx="256.5" cy="201.9" r="1.85"/><circle cx="245.6" cy="202.7" r="1.85"/><circle cx="266.0" cy="197.2" r="1.85"/><circle cx="274.2" cy="203.4" r="1.85"/><circle cx="254.8" cy="199.6" r="1.85"/><circle cx="322.9" cy="194.5" r="1.85"/><circle cx="239.6" cy="194.3" r="1.85"/><circle cx="326.7" cy="200.7" r="1.85"/><circle cx="335.4" cy="202.2" r="1.85"/><circle cx="241.6" cy="200.4" r="1.85"/><circle cx="249.9" cy="203.7" r="1.85"/><circle cx="337.3" cy="199.1" r="1.85"/><circle cx="271.4" cy="202.0" r="1.85"/><circle cx="258.2" cy="197.4" r="1.85"/><circle cx="319.3" cy="201.1" r="1.85"/><circle cx="297.8" cy="199.3" r="1.85"/><circle cx="300.7" cy="200.4" r="1.85"/><circle cx="244.2" cy="202.6" r="1.85"/><circle cx="251.6" cy="199.7" r="1.85"/><circle cx="304.4" cy="203.9" r="1.85"/><circle cx="251.5" cy="202.5" r="1.85"/><circle cx="307.5" cy="200.0" r="1.85"/><circle cx="249.3" cy="199.0" r="1.85"/><circle cx="321.3" cy="201.7" r="1.85"/><circle cx="292.2" cy="201.1" r="1.85"/><circle cx="274.1" cy="200.3" r="1.85"/><circle cx="292.4" cy="199.0" r="1.85"/><circle cx="246.8" cy="198.8" r="1.85"/><circle cx="309.6" cy="197.7" r="1.85"/><circle cx="263.8" cy="201.1" r="1.85"/><circle cx="340.0" cy="198.3" r="1.85"/><circle cx="269.6" cy="203.4" r="1.85"/><circle cx="276.6" cy="206.5" r="1.85"/><circle cx="270.4" cy="201.4" r="1.85"/><circle cx="251.5" cy="204.4" r="1.85"/><circle cx="228.2" cy="202.4" r="1.85"/><circle cx="324.3" cy="198.0" r="1.85"/><circle cx="275.4" cy="202.3" r="1.85"/><circle cx="246.7" cy="197.6" r="1.85"/><circle cx="229.3" cy="195.7" r="1.85"/><circle cx="334.9" cy="198.4" r="1.85"/><circle cx="238.0" cy="197.7" r="1.85"/><circle cx="287.0" cy="197.8" r="1.85"/><circle cx="244.7" cy="199.0" r="1.85"/><circle cx="336.7" cy="203.4" r="1.85"/><circle cx="240.3" cy="194.4" r="1.85"/><circle cx="341.6" cy="200.1" r="1.85"/><circle cx="250.8" cy="204.8" r="1.85"/><circle cx="342.6" cy="204.9" r="1.85"/><circle cx="284.5" cy="206.3" r="1.85"/><circle cx="273.3" cy="202.1" r="1.85"/><circle cx="334.2" cy="195.7" r="1.85"/><circle cx="246.4" cy="196.0" r="1.85"/><circle cx="320.2" cy="200.3" r="1.85"/><circle cx="327.4" cy="202.8" r="1.85"/><circle cx="325.3" cy="200.7" r="1.85"/><circle cx="274.7" cy="201.7" r="1.85"/><circle cx="288.6" cy="198.7" r="1.85"/><circle cx="256.7" cy="200.8" r="1.85"/><circle cx="313.0" cy="200.5" r="1.85"/><circle cx="293.9" cy="199.3" r="1.85"/><circle cx="316.9" cy="205.4" r="1.85"/><circle cx="241.4" cy="201.2" r="1.85"/><circle cx="298.2" cy="195.8" r="1.85"/><circle cx="263.6" cy="198.5" r="1.85"/><circle cx="277.1" cy="197.1" r="1.85"/><circle cx="305.2" cy="198.2" r="1.85"/><circle cx="280.2" cy="199.2" r="1.85"/><circle cx="300.5" cy="200.0" r="1.85"/><circle cx="285.3" cy="200.3" r="1.85"/><circle cx="319.5" cy="204.9" r="1.85"/><circle cx="281.6" cy="201.3" r="1.85"/><circle cx="240.1" cy="202.9" r="1.85"/><circle cx="242.7" cy="198.6" r="1.85"/><circle cx="279.7" cy="200.4" r="1.85"/><circle cx="287.7" cy="203.9" r="1.85"/><circle cx="237.2" cy="200.9" r="1.85"/><circle cx="381.1" cy="110.4" r="1.85"/><circle cx="397.5" cy="110.4" r="1.85"/><circle cx="407.7" cy="110.4" r="1.85"/><circle cx="409.6" cy="110.4" r="1.85"/><circle cx="412.0" cy="110.4" r="1.85"/><circle cx="421.7" cy="110.4" r="1.85"/><circle cx="424.1" cy="110.4" r="1.85"/><circle cx="428.9" cy="110.4" r="1.85"/><circle cx="431.3" cy="110.4" r="1.85"/><circle cx="433.4" cy="110.4" r="1.85"/><circle cx="437.3" cy="110.4" r="1.85"/><circle cx="442.1" cy="110.4" r="1.85"/><circle cx="446.0" cy="110.4" r="1.85"/><circle cx="447.4" cy="110.4" r="1.85"/><circle cx="449.8" cy="110.4" r="1.85"/><circle cx="461.4" cy="110.4" r="1.85"/><circle cx="467.7" cy="110.4" r="1.85"/><circle cx="470.6" cy="110.4" r="1.85"/><circle cx="476.4" cy="110.4" r="1.85"/><circle cx="479.3" cy="110.4" r="1.85"/><circle cx="382.0" cy="112.6" r="1.85"/><circle cx="376.7" cy="117.4" r="1.85"/><circle cx="377.2" cy="119.3" r="1.85"/><circle cx="391.2" cy="116.4" r="1.85"/><circle cx="399.4" cy="118.9" r="1.85"/><circle cx="405.2" cy="117.4" r="1.85"/><circle cx="410.6" cy="117.4" r="1.85"/><circle cx="417.3" cy="116.9" r="1.85"/><circle cx="417.3" cy="118.9" r="1.85"/><circle cx="426.5" cy="118.4" r="1.85"/><circle cx="377.7" cy="123.2" r="1.85"/><circle cx="380.1" cy="122.7" r="1.85"/><circle cx="382.5" cy="122.7" r="1.85"/><circle cx="386.9" cy="124.7" r="1.85"/><circle cx="388.8" cy="123.2" r="1.85"/><circle cx="391.2" cy="122.7" r="1.85"/><circle cx="393.6" cy="123.2" r="1.85"/><circle cx="389.8" cy="125.6" r="1.85"/><circle cx="387.3" cy="126.6" r="1.85"/><circle cx="392.2" cy="126.1" r="1.85"/><circle cx="397.0" cy="122.7" r="1.85"/><circle cx="397.5" cy="125.1" r="1.85"/><circle cx="402.3" cy="122.7" r="1.85"/><circle cx="415.4" cy="122.7" r="1.85"/><circle cx="416.4" cy="124.7" r="1.85"/><circle cx="420.2" cy="122.7" r="1.85"/><circle cx="427.0" cy="122.7" r="1.85"/><circle cx="428.4" cy="120.3" r="1.85"/><circle cx="426.0" cy="124.7" r="1.85"/><circle cx="382.5" cy="136.8" r="1.85"/><circle cx="384.9" cy="137.2" r="1.85"/><circle cx="405.2" cy="136.8" r="1.85"/><circle cx="396.5" cy="138.2" r="1.85"/><circle cx="465.8" cy="104.4" r="1.85"/><circle cx="452.2" cy="112.6" r="1.85"/><circle cx="450.8" cy="114.5" r="1.85"/><circle cx="449.3" cy="116.9" r="1.85"/><circle cx="471.1" cy="112.6" r="1.85"/><circle cx="476.4" cy="113.5" r="1.85"/><circle cx="475.5" cy="116.0" r="1.85"/><circle cx="473.5" cy="117.9" r="1.85"/><circle cx="485.6" cy="115.5" r="1.85"/><circle cx="485.1" cy="117.4" r="1.85"/><circle cx="432.4" cy="118.9" r="1.85"/><circle cx="431.5" cy="122.7" r="1.85"/><circle cx="432.4" cy="124.7" r="1.85"/><circle cx="440.6" cy="120.8" r="1.85"/><circle cx="443.5" cy="119.3" r="1.85"/><circle cx="437.3" cy="122.7" r="1.85"/><circle cx="455.1" cy="118.9" r="1.85"/><circle cx="466.8" cy="117.4" r="1.85"/><circle cx="451.8" cy="123.2" r="1.85"/><circle cx="446.0" cy="123.2" r="1.85"/><circle cx="444.5" cy="126.1" r="1.85"/><circle cx="459.0" cy="125.1" r="1.85"/><circle cx="462.4" cy="124.7" r="1.85"/><circle cx="467.7" cy="122.7" r="1.85"/><circle cx="469.7" cy="124.7" r="1.85"/><circle cx="475.0" cy="125.6" r="1.85"/><circle cx="477.4" cy="125.6" r="1.85"/><circle cx="435.8" cy="127.6" r="1.85"/><circle cx="439.2" cy="126.6" r="1.85"/><circle cx="489.0" cy="131.9" r="1.85"/><circle cx="489.5" cy="136.3" r="1.85"/><circle cx="452.2" cy="136.3" r="1.85"/><circle cx="458.5" cy="136.8" r="1.85"/><circle cx="462.4" cy="136.3" r="1.85"/><circle cx="468.2" cy="136.3" r="1.85"/><circle cx="472.6" cy="136.3" r="1.85"/><circle cx="475.5" cy="137.2" r="1.85"/><circle cx="396.5" cy="140.4" r="1.85"/><circle cx="409.6" cy="139.4" r="1.85"/><circle cx="412.5" cy="136.5" r="1.85"/><circle cx="418.3" cy="137.5" r="1.85"/><circle cx="420.7" cy="138.9" r="1.85"/><circle cx="422.2" cy="137.0" r="1.85"/><circle cx="425.1" cy="137.9" r="1.85"/><circle cx="428.0" cy="137.5" r="1.85"/><circle cx="376.7" cy="140.8" r="1.85"/><circle cx="374.8" cy="142.8" r="1.85"/><circle cx="377.7" cy="143.3" r="1.85"/><circle cx="375.3" cy="145.2" r="1.85"/><circle cx="376.7" cy="146.6" r="1.85"/><circle cx="378.6" cy="148.1" r="1.85"/><circle cx="387.3" cy="144.7" r="1.85"/><circle cx="384.0" cy="148.6" r="1.85"/><circle cx="393.6" cy="144.2" r="1.85"/><circle cx="395.1" cy="146.6" r="1.85"/><circle cx="394.1" cy="149.1" r="1.85"/><circle cx="397.0" cy="148.6" r="1.85"/><circle cx="396.0" cy="142.8" r="1.85"/><circle cx="400.4" cy="140.8" r="1.85"/><circle cx="401.4" cy="144.2" r="1.85"/><circle cx="402.8" cy="143.3" r="1.85"/><circle cx="403.8" cy="146.6" r="1.85"/><circle cx="398.9" cy="151.0" r="1.85"/><circle cx="399.9" cy="153.4" r="1.85"/><circle cx="398.0" cy="155.8" r="1.85"/><circle cx="402.3" cy="153.4" r="1.85"/><circle cx="404.3" cy="151.5" r="1.85"/><circle cx="404.8" cy="153.9" r="1.85"/><circle cx="407.7" cy="143.3" r="1.85"/><circle cx="410.6" cy="143.7" r="1.85"/><circle cx="413.0" cy="145.2" r="1.85"/><circle cx="415.4" cy="146.6" r="1.85"/><circle cx="417.3" cy="144.7" r="1.85"/><circle cx="419.3" cy="145.2" r="1.85"/><circle cx="420.2" cy="147.1" r="1.85"/><circle cx="421.7" cy="149.5" r="1.85"/><circle cx="414.4" cy="151.5" r="1.85"/><circle cx="416.4" cy="150.5" r="1.85"/><circle cx="418.3" cy="152.4" r="1.85"/><circle cx="416.4" cy="155.3" r="1.85"/><circle cx="417.3" cy="157.8" r="1.85"/><circle cx="422.2" cy="154.9" r="1.85"/><circle cx="425.1" cy="154.9" r="1.85"/><circle cx="427.0" cy="156.3" r="1.85"/><circle cx="428.0" cy="153.4" r="1.85"/><circle cx="429.9" cy="150.5" r="1.85"/><circle cx="428.0" cy="147.6" r="1.85"/><circle cx="426.0" cy="147.1" r="1.85"/><circle cx="429.9" cy="158.2" r="1.85"/><circle cx="426.0" cy="159.7" r="1.85"/><circle cx="424.1" cy="160.7" r="1.85"/><circle cx="375.7" cy="152.0" r="1.85"/><circle cx="379.6" cy="153.9" r="1.85"/><circle cx="378.2" cy="157.8" r="1.85"/><circle cx="380.6" cy="156.8" r="1.85"/><circle cx="378.6" cy="159.7" r="1.85"/><circle cx="387.3" cy="153.4" r="1.85"/><circle cx="391.2" cy="153.9" r="1.85"/><circle cx="389.8" cy="155.8" r="1.85"/><circle cx="391.2" cy="159.7" r="1.85"/><circle cx="389.3" cy="160.7" r="1.85"/><circle cx="410.6" cy="154.4" r="1.85"/><circle cx="396.0" cy="162.6" r="1.85"/><circle cx="400.4" cy="161.1" r="1.85"/><circle cx="405.7" cy="161.6" r="1.85"/><circle cx="413.5" cy="162.6" r="1.85"/><circle cx="422.2" cy="164.5" r="1.85"/><circle cx="387.3" cy="167.9" r="1.85"/><circle cx="412.0" cy="168.9" r="1.85"/><circle cx="383.5" cy="173.2" r="1.85"/><circle cx="391.2" cy="170.8" r="1.85"/><circle cx="392.2" cy="173.7" r="1.85"/><circle cx="400.4" cy="172.3" r="1.85"/><circle cx="405.2" cy="172.3" r="1.85"/><circle cx="424.1" cy="172.8" r="1.85"/><circle cx="374.8" cy="175.2" r="1.85"/><circle cx="388.8" cy="175.2" r="1.85"/><circle cx="430.9" cy="174.7" r="1.85"/><circle cx="443.5" cy="137.9" r="1.85"/><circle cx="445.5" cy="139.4" r="1.85"/><circle cx="447.9" cy="140.4" r="1.85"/><circle cx="451.3" cy="140.4" r="1.85"/><circle cx="449.3" cy="136.5" r="1.85"/><circle cx="470.6" cy="137.9" r="1.85"/><circle cx="476.4" cy="139.9" r="1.85"/><circle cx="469.7" cy="140.8" r="1.85"/><circle cx="471.6" cy="142.3" r="1.85"/><circle cx="474.0" cy="141.3" r="1.85"/><circle cx="473.5" cy="144.7" r="1.85"/><circle cx="475.5" cy="146.2" r="1.85"/><circle cx="477.4" cy="145.2" r="1.85"/><circle cx="478.4" cy="147.6" r="1.85"/><circle cx="481.3" cy="139.9" r="1.85"/><circle cx="482.7" cy="143.3" r="1.85"/><circle cx="480.3" cy="144.7" r="1.85"/><circle cx="488.5" cy="140.4" r="1.85"/><circle cx="458.5" cy="143.3" r="1.85"/><circle cx="460.5" cy="142.3" r="1.85"/><circle cx="463.4" cy="144.2" r="1.85"/><circle cx="465.8" cy="147.6" r="1.85"/><circle cx="432.4" cy="146.2" r="1.85"/><circle cx="434.8" cy="147.6" r="1.85"/><circle cx="433.9" cy="149.1" r="1.85"/><circle cx="431.5" cy="152.9" r="1.85"/><circle cx="439.7" cy="148.6" r="1.85"/><circle cx="441.6" cy="147.6" r="1.85"/><circle cx="443.5" cy="146.6" r="1.85"/><circle cx="447.9" cy="146.6" r="1.85"/><circle cx="449.8" cy="151.0" r="1.85"/><circle cx="453.2" cy="151.0" r="1.85"/><circle cx="455.1" cy="152.9" r="1.85"/><circle cx="454.7" cy="155.3" r="1.85"/><circle cx="452.7" cy="156.8" r="1.85"/><circle cx="450.8" cy="154.9" r="1.85"/><circle cx="458.0" cy="149.1" r="1.85"/><circle cx="481.7" cy="146.6" r="1.85"/><circle cx="484.2" cy="147.1" r="1.85"/><circle cx="488.0" cy="146.2" r="1.85"/><circle cx="479.3" cy="150.5" r="1.85"/><circle cx="482.7" cy="152.9" r="1.85"/><circle cx="484.6" cy="154.4" r="1.85"/><circle cx="466.8" cy="154.4" r="1.85"/><circle cx="439.7" cy="157.3" r="1.85"/><circle cx="440.6" cy="156.3" r="1.85"/><circle cx="446.0" cy="156.3" r="1.85"/><circle cx="445.5" cy="160.2" r="1.85"/><circle cx="449.8" cy="159.7" r="1.85"/><circle cx="464.3" cy="159.2" r="1.85"/><circle cx="472.6" cy="159.2" r="1.85"/><circle cx="468.2" cy="161.6" r="1.85"/><circle cx="466.8" cy="164.5" r="1.85"/><circle cx="469.2" cy="165.5" r="1.85"/><circle cx="461.9" cy="164.0" r="1.85"/><circle cx="482.2" cy="159.2" r="1.85"/><circle cx="485.6" cy="159.7" r="1.85"/><circle cx="488.0" cy="159.2" r="1.85"/><circle cx="490.0" cy="157.8" r="1.85"/><circle cx="432.9" cy="159.2" r="1.85"/><circle cx="437.3" cy="163.6" r="1.85"/><circle cx="439.2" cy="164.5" r="1.85"/><circle cx="432.9" cy="165.5" r="1.85"/><circle cx="432.4" cy="168.9" r="1.85"/><circle cx="434.4" cy="170.3" r="1.85"/><circle cx="438.7" cy="170.3" r="1.85"/><circle cx="451.3" cy="165.0" r="1.85"/><circle cx="451.3" cy="167.4" r="1.85"/><circle cx="455.6" cy="168.9" r="1.85"/><circle cx="458.0" cy="168.9" r="1.85"/><circle cx="482.2" cy="166.5" r="1.85"/><circle cx="488.5" cy="171.8" r="1.85"/><circle cx="488.5" cy="174.2" r="1.85"/><circle cx="440.2" cy="174.7" r="1.85"/><circle cx="429.9" cy="175.9" r="1.85"/><circle cx="431.3" cy="179.3" r="1.85"/><circle cx="376.7" cy="180.7" r="1.85"/><circle cx="384.9" cy="179.7" r="1.85"/><circle cx="414.4" cy="182.4" r="1.85"/><circle cx="400.4" cy="185.3" r="1.85"/><circle cx="425.5" cy="185.5" r="1.85"/><circle cx="390.2" cy="195.2" r="1.85"/><circle cx="402.8" cy="195.2" r="1.85"/><circle cx="407.7" cy="193.3" r="1.85"/><circle cx="424.6" cy="193.3" r="1.85"/><circle cx="373.8" cy="201.0" r="1.85"/><circle cx="378.6" cy="201.0" r="1.85"/><circle cx="385.4" cy="201.0" r="1.85"/><circle cx="390.2" cy="201.0" r="1.85"/><circle cx="398.0" cy="201.0" r="1.85"/><circle cx="418.8" cy="201.0" r="1.85"/><circle cx="425.5" cy="201.0" r="1.85"/><circle cx="429.9" cy="201.0" r="1.85"/><circle cx="432.3" cy="201.0" r="1.85"/><circle cx="397.5" cy="203.9" r="1.85"/><circle cx="394.1" cy="206.3" r="1.85"/><circle cx="405.7" cy="206.3" r="1.85"/><circle cx="410.6" cy="206.3" r="1.85"/><circle cx="412.5" cy="206.3" r="1.85"/><circle cx="414.4" cy="206.3" r="1.85"/><circle cx="441.1" cy="206.3" r="1.85"/><circle cx="445.5" cy="206.3" r="1.85"/><circle cx="450.3" cy="206.3" r="1.85"/><circle cx="461.4" cy="206.3" r="1.85"/><circle cx="484.6" cy="206.3" r="1.85"/><circle cx="490.0" cy="206.3" r="1.85"/><circle cx="440.2" cy="180.5" r="1.85"/><circle cx="486.6" cy="177.3" r="1.85"/><circle cx="486.6" cy="182.4" r="1.85"/><circle cx="468.7" cy="188.2" r="1.85"/><circle cx="446.9" cy="193.3" r="1.85"/><circle cx="461.9" cy="193.3" r="1.85"/><circle cx="480.8" cy="193.3" r="1.85"/><circle cx="433.4" cy="204.4" r="1.85"/><circle cx="435.3" cy="206.3" r="1.85"/><circle cx="481.7" cy="200.8" r="1.85"/><circle cx="467.2" cy="202.8" r="1.85"/><circle cx="400.9" cy="216.4" r="1.85"/><circle cx="399.6" cy="220.4" r="1.85"/><circle cx="402.1" cy="220.1" r="1.85"/><circle cx="404.7" cy="219.1" r="1.85"/><circle cx="411.2" cy="215.6" r="1.85"/><circle cx="409.7" cy="220.4" r="1.85"/><circle cx="418.6" cy="220.7" r="1.85"/><circle cx="420.3" cy="220.7" r="1.85"/><circle cx="394.7" cy="235.0" r="1.85"/><circle cx="425.6" cy="110.4" r="1.85"/><circle cx="434.8" cy="110.4" r="1.85"/><circle cx="439.4" cy="110.4" r="1.85"/><circle cx="444.0" cy="110.4" r="1.85"/><circle cx="406.7" cy="111.3" r="1.85"/><circle cx="437.0" cy="112.2" r="1.85"/><circle cx="442.0" cy="112.4" r="1.85"/><circle cx="427.5" cy="112.0" r="1.85"/><circle cx="409.5" cy="127.4" r="1.85"/><circle cx="411.3" cy="129.1" r="1.85"/><circle cx="413.1" cy="130.9" r="1.85"/><circle cx="414.0" cy="133.6" r="1.85"/><circle cx="414.9" cy="135.4" r="1.85"/><circle cx="416.6" cy="132.7" r="1.85"/><circle cx="418.4" cy="130.9" r="1.85"/><circle cx="420.2" cy="131.8" r="1.85"/><circle cx="422.0" cy="134.5" r="1.85"/><circle cx="423.8" cy="136.3" r="1.85"/><circle cx="427.4" cy="135.4" r="1.85"/><circle cx="429.1" cy="132.7" r="1.85"/><circle cx="425.6" cy="131.8" r="1.85"/><circle cx="422.0" cy="129.1" r="1.85"/><circle cx="419.3" cy="129.1" r="1.85"/><circle cx="457.6" cy="130.6" r="1.85"/><circle cx="380.2" cy="129.3" r="1.85"/><circle cx="431.4" cy="128.8" r="1.85"/><circle cx="389.5" cy="131.9" r="1.85"/><circle cx="471.7" cy="131.9" r="1.85"/><circle cx="466.9" cy="130.4" r="1.85"/><circle cx="396.1" cy="131.4" r="1.85"/><circle cx="483.1" cy="130.3" r="1.85"/><circle cx="478.4" cy="131.2" r="1.85"/><circle cx="480.1" cy="131.8" r="1.85"/><circle cx="381.5" cy="129.5" r="1.85"/><circle cx="392.1" cy="131.6" r="1.85"/><circle cx="476.2" cy="130.1" r="1.85"/><circle cx="390.4" cy="132.0" r="1.85"/><circle cx="431.3" cy="130.9" r="1.85"/><circle cx="404.0" cy="130.1" r="1.85"/><circle cx="431.7" cy="130.3" r="1.85"/><circle cx="394.8" cy="130.6" r="1.85"/><circle cx="392.4" cy="131.7" r="1.85"/><circle cx="476.1" cy="129.9" r="1.85"/><circle cx="393.2" cy="130.5" r="1.85"/><circle cx="434.5" cy="130.0" r="1.85"/><circle cx="446.5" cy="129.2" r="1.85"/><circle cx="437.3" cy="131.8" r="1.85"/><circle cx="440.1" cy="130.7" r="1.85"/><circle cx="487.2" cy="130.1" r="1.85"/><circle cx="445.8" cy="129.1" r="1.85"/><circle cx="404.2" cy="131.4" r="1.85"/><circle cx="486.9" cy="129.6" r="1.85"/><circle cx="461.2" cy="130.0" r="1.85"/><circle cx="424.4" cy="131.1" r="1.85"/><circle cx="379.5" cy="131.7" r="1.85"/><circle cx="467.5" cy="130.4" r="1.85"/><circle cx="486.2" cy="131.7" r="1.85"/><circle cx="440.8" cy="130.0" r="1.85"/><circle cx="374.2" cy="129.7" r="1.85"/><circle cx="377.9" cy="131.1" r="1.85"/><circle cx="423.3" cy="131.4" r="1.85"/><circle cx="432.4" cy="130.8" r="1.85"/><circle cx="399.9" cy="130.1" r="1.85"/><circle cx="448.5" cy="130.5" r="1.85"/><circle cx="414.5" cy="130.4" r="1.85"/><circle cx="386.1" cy="130.0" r="1.85"/><circle cx="440.5" cy="130.9" r="1.85"/><circle cx="441.2" cy="130.8" r="1.85"/><circle cx="428.1" cy="131.6" r="1.85"/><circle cx="389.4" cy="131.0" r="1.85"/><circle cx="391.0" cy="130.1" r="1.85"/><circle cx="384.9" cy="129.2" r="1.85"/><circle cx="463.2" cy="129.0" r="1.85"/><circle cx="419.8" cy="130.4" r="1.85"/><circle cx="447.5" cy="130.5" r="1.85"/><circle cx="438.1" cy="129.6" r="1.85"/><circle cx="424.6" cy="131.4" r="1.85"/><circle cx="480.8" cy="130.3" r="1.85"/><circle cx="477.0" cy="129.7" r="1.85"/><circle cx="379.0" cy="129.5" r="1.85"/><circle cx="401.1" cy="130.2" r="1.85"/><circle cx="380.7" cy="130.4" r="1.85"/><circle cx="436.8" cy="130.3" r="1.85"/><circle cx="481.3" cy="130.8" r="1.85"/><circle cx="443.3" cy="130.9" r="1.85"/><circle cx="431.8" cy="129.4" r="1.85"/><circle cx="393.9" cy="129.1" r="1.85"/><circle cx="409.3" cy="130.3" r="1.85"/><circle cx="475.4" cy="130.7" r="1.85"/><circle cx="463.3" cy="130.4" r="1.85"/><circle cx="470.3" cy="130.3" r="1.85"/><circle cx="459.0" cy="129.0" r="1.85"/><circle cx="425.6" cy="130.7" r="1.85"/><circle cx="399.8" cy="130.9" r="1.85"/><circle cx="378.4" cy="130.8" r="1.85"/><circle cx="412.2" cy="130.4" r="1.85"/><circle cx="470.4" cy="129.0" r="1.85"/><circle cx="455.1" cy="130.3" r="1.85"/><circle cx="423.7" cy="131.5" r="1.85"/><circle cx="463.9" cy="129.7" r="1.85"/><circle cx="447.2" cy="130.3" r="1.85"/><circle cx="484.0" cy="130.8" r="1.85"/><circle cx="375.7" cy="132.2" r="1.85"/><circle cx="403.7" cy="130.5" r="1.85"/><circle cx="481.7" cy="131.9" r="1.85"/><circle cx="459.1" cy="129.5" r="1.85"/><circle cx="411.5" cy="132.0" r="1.85"/><circle cx="401.3" cy="131.5" r="1.85"/><circle cx="453.0" cy="129.7" r="1.85"/><circle cx="449.8" cy="131.4" r="1.85"/><circle cx="469.7" cy="130.3" r="1.85"/><circle cx="453.5" cy="131.0" r="1.85"/><circle cx="456.6" cy="129.6" r="1.85"/><circle cx="439.0" cy="130.2" r="1.85"/><circle cx="445.0" cy="131.0" r="1.85"/><circle cx="382.9" cy="130.8" r="1.85"/><circle cx="377.1" cy="130.1" r="1.85"/><circle cx="386.2" cy="131.1" r="1.85"/><circle cx="390.2" cy="132.0" r="1.85"/><circle cx="377.3" cy="133.7" r="1.85"/><circle cx="446.3" cy="132.8" r="1.85"/><circle cx="453.5" cy="132.4" r="1.85"/><circle cx="441.3" cy="132.1" r="1.85"/><circle cx="415.4" cy="133.1" r="1.85"/><circle cx="475.6" cy="130.9" r="1.85"/><circle cx="381.5" cy="133.7" r="1.85"/><circle cx="481.7" cy="130.9" r="1.85"/><circle cx="386.2" cy="132.5" r="1.85"/><circle cx="377.9" cy="132.8" r="1.85"/><circle cx="470.6" cy="132.9" r="1.85"/><circle cx="468.1" cy="131.2" r="1.85"/><circle cx="446.0" cy="132.3" r="1.85"/><circle cx="385.2" cy="132.8" r="1.85"/><circle cx="460.3" cy="132.6" r="1.85"/><circle cx="422.3" cy="133.2" r="1.85"/><circle cx="376.4" cy="132.4" r="1.85"/><circle cx="455.6" cy="133.1" r="1.85"/><circle cx="416.0" cy="131.4" r="1.85"/><circle cx="431.4" cy="133.1" r="1.85"/><circle cx="377.5" cy="131.4" r="1.85"/><circle cx="421.1" cy="131.0" r="1.85"/><circle cx="413.5" cy="133.0" r="1.85"/><circle cx="454.3" cy="131.8" r="1.85"/><circle cx="472.3" cy="132.3" r="1.85"/><circle cx="384.4" cy="132.6" r="1.85"/><circle cx="374.1" cy="131.9" r="1.85"/><circle cx="397.0" cy="132.6" r="1.85"/><circle cx="374.5" cy="131.4" r="1.85"/><circle cx="464.8" cy="132.5" r="1.85"/><circle cx="395.0" cy="131.6" r="1.85"/><circle cx="468.8" cy="132.4" r="1.85"/><circle cx="403.7" cy="133.1" r="1.85"/><circle cx="398.5" cy="132.1" r="1.85"/><circle cx="453.7" cy="132.0" r="1.85"/><circle cx="446.6" cy="132.4" r="1.85"/><circle cx="383.2" cy="132.7" r="1.85"/><circle cx="463.7" cy="131.0" r="1.85"/><circle cx="445.6" cy="131.8" r="1.85"/><circle cx="419.0" cy="133.1" r="1.85"/><circle cx="475.5" cy="134.0" r="1.85"/><circle cx="376.9" cy="133.4" r="1.85"/><circle cx="397.5" cy="132.2" r="1.85"/><circle cx="431.1" cy="134.3" r="1.85"/><circle cx="417.2" cy="132.9" r="1.85"/><circle cx="426.5" cy="132.0" r="1.85"/><circle cx="434.6" cy="132.4" r="1.85"/><circle cx="447.7" cy="130.9" r="1.85"/><circle cx="413.7" cy="132.2" r="1.85"/><circle cx="526.6" cy="50.6" r="1.85"/><circle cx="569.2" cy="49.3" r="1.85"/><circle cx="533.9" cy="58.0" r="1.85"/><circle cx="539.7" cy="58.0" r="1.85"/><circle cx="542.1" cy="58.0" r="1.85"/><circle cx="544.5" cy="58.0" r="1.85"/><circle cx="546.9" cy="58.0" r="1.85"/><circle cx="548.4" cy="58.0" r="1.85"/><circle cx="552.2" cy="58.0" r="1.85"/><circle cx="554.2" cy="58.0" r="1.85"/><circle cx="556.1" cy="58.0" r="1.85"/><circle cx="562.9" cy="58.0" r="1.85"/><circle cx="565.3" cy="58.0" r="1.85"/><circle cx="567.7" cy="58.0" r="1.85"/><circle cx="570.1" cy="58.0" r="1.85"/><circle cx="573.0" cy="58.0" r="1.85"/><circle cx="575.4" cy="58.0" r="1.85"/><circle cx="577.9" cy="58.0" r="1.85"/><circle cx="534.3" cy="60.0" r="1.85"/><circle cx="534.8" cy="62.4" r="1.85"/><circle cx="535.8" cy="64.8" r="1.85"/><circle cx="536.8" cy="66.7" r="1.85"/><circle cx="552.2" cy="61.4" r="1.85"/><circle cx="569.6" cy="61.4" r="1.85"/><circle cx="524.2" cy="65.3" r="1.85"/><circle cx="530.0" cy="65.8" r="1.85"/><circle cx="531.0" cy="67.2" r="1.85"/><circle cx="553.7" cy="65.5" r="1.85"/><circle cx="565.3" cy="66.7" r="1.85"/><circle cx="566.7" cy="68.2" r="1.85"/><circle cx="572.5" cy="65.8" r="1.85"/><circle cx="572.5" cy="68.2" r="1.85"/><circle cx="521.3" cy="69.1" r="1.85"/><circle cx="522.7" cy="70.1" r="1.85"/><circle cx="535.3" cy="69.1" r="1.85"/><circle cx="538.7" cy="69.6" r="1.85"/><circle cx="536.8" cy="70.6" r="1.85"/><circle cx="545.5" cy="71.1" r="1.85"/><circle cx="547.9" cy="71.1" r="1.85"/><circle cx="563.4" cy="71.1" r="1.85"/><circle cx="554.7" cy="73.0" r="1.85"/><circle cx="558.0" cy="76.4" r="1.85"/><circle cx="569.2" cy="72.0" r="1.85"/><circle cx="570.6" cy="73.0" r="1.85"/><circle cx="572.1" cy="72.0" r="1.85"/><circle cx="518.9" cy="77.4" r="1.85"/><circle cx="520.8" cy="77.4" r="1.85"/><circle cx="526.1" cy="77.4" r="1.85"/><circle cx="528.5" cy="77.4" r="1.85"/><circle cx="531.0" cy="77.4" r="1.85"/><circle cx="533.4" cy="77.4" r="1.85"/><circle cx="535.8" cy="77.4" r="1.85"/><circle cx="538.2" cy="77.4" r="1.85"/><circle cx="540.6" cy="77.4" r="1.85"/><circle cx="543.0" cy="77.4" r="1.85"/><circle cx="545.5" cy="77.4" r="1.85"/><circle cx="547.9" cy="77.4" r="1.85"/><circle cx="550.3" cy="77.4" r="1.85"/><circle cx="552.7" cy="77.4" r="1.85"/><circle cx="569.2" cy="77.4" r="1.85"/><circle cx="574.0" cy="77.4" r="1.85"/><circle cx="570.1" cy="80.3" r="1.85"/><circle cx="573.0" cy="80.8" r="1.85"/><circle cx="566.3" cy="80.3" r="1.85"/><circle cx="523.7" cy="81.2" r="1.85"/><circle cx="526.6" cy="81.2" r="1.85"/><circle cx="533.4" cy="80.8" r="1.85"/><circle cx="538.2" cy="80.8" r="1.85"/><circle cx="543.0" cy="81.2" r="1.85"/><circle cx="546.9" cy="81.7" r="1.85"/><circle cx="559.5" cy="81.7" r="1.85"/><circle cx="599.0" cy="51.5" r="1.85"/><circle cx="623.9" cy="49.3" r="1.85"/><circle cx="588.6" cy="59.0" r="1.85"/><circle cx="609.4" cy="58.0" r="1.85"/><circle cx="616.7" cy="58.0" r="1.85"/><circle cx="616.2" cy="60.4" r="1.85"/><circle cx="616.7" cy="62.9" r="1.85"/><circle cx="629.2" cy="57.5" r="1.85"/><circle cx="632.1" cy="57.5" r="1.85"/><circle cx="635.0" cy="58.0" r="1.85"/><circle cx="627.8" cy="61.4" r="1.85"/><circle cx="632.1" cy="62.4" r="1.85"/><circle cx="630.7" cy="65.3" r="1.85"/><circle cx="629.7" cy="67.2" r="1.85"/><circle cx="634.5" cy="66.7" r="1.85"/><circle cx="582.8" cy="66.7" r="1.85"/><circle cx="590.1" cy="65.3" r="1.85"/><circle cx="593.4" cy="66.7" r="1.85"/><circle cx="601.7" cy="65.3" r="1.85"/><circle cx="584.3" cy="70.1" r="1.85"/><circle cx="585.7" cy="71.1" r="1.85"/><circle cx="589.6" cy="70.6" r="1.85"/><circle cx="596.3" cy="71.6" r="1.85"/><circle cx="598.8" cy="72.0" r="1.85"/><circle cx="601.2" cy="71.1" r="1.85"/><circle cx="602.6" cy="70.6" r="1.85"/><circle cx="600.2" cy="73.0" r="1.85"/><circle cx="613.3" cy="69.1" r="1.85"/><circle cx="623.4" cy="70.1" r="1.85"/><circle cx="626.3" cy="71.1" r="1.85"/><circle cx="633.6" cy="73.0" r="1.85"/><circle cx="583.8" cy="76.4" r="1.85"/><circle cx="587.2" cy="76.4" r="1.85"/><circle cx="594.4" cy="76.4" r="1.85"/><circle cx="597.3" cy="76.4" r="1.85"/><circle cx="599.7" cy="77.4" r="1.85"/><circle cx="602.1" cy="77.4" r="1.85"/><circle cx="579.9" cy="78.3" r="1.85"/><circle cx="578.5" cy="80.8" r="1.85"/><circle cx="593.9" cy="80.8" r="1.85"/><circle cx="596.8" cy="81.2" r="1.85"/><circle cx="601.2" cy="80.8" r="1.85"/><circle cx="606.0" cy="80.3" r="1.85"/><circle cx="607.9" cy="81.7" r="1.85"/><circle cx="526.6" cy="83.4" r="1.85"/><circle cx="520.8" cy="85.8" r="1.85"/><circle cx="523.2" cy="86.3" r="1.85"/><circle cx="525.6" cy="85.8" r="1.85"/><circle cx="528.1" cy="85.3" r="1.85"/><circle cx="540.1" cy="81.5" r="1.85"/><circle cx="545.9" cy="83.9" r="1.85"/><circle cx="535.8" cy="84.8" r="1.85"/><circle cx="551.8" cy="86.3" r="1.85"/><circle cx="555.6" cy="81.9" r="1.85"/><circle cx="558.5" cy="82.9" r="1.85"/><circle cx="561.4" cy="84.4" r="1.85"/><circle cx="564.3" cy="84.8" r="1.85"/><circle cx="567.2" cy="85.8" r="1.85"/><circle cx="569.2" cy="82.9" r="1.85"/><circle cx="572.1" cy="83.9" r="1.85"/><circle cx="575.0" cy="81.9" r="1.85"/><circle cx="577.9" cy="82.9" r="1.85"/><circle cx="559.5" cy="85.8" r="1.85"/><circle cx="521.3" cy="90.2" r="1.85"/><circle cx="528.1" cy="90.2" r="1.85"/><circle cx="536.3" cy="90.2" r="1.85"/><circle cx="538.7" cy="90.2" r="1.85"/><circle cx="541.1" cy="90.2" r="1.85"/><circle cx="543.5" cy="90.2" r="1.85"/><circle cx="546.0" cy="90.2" r="1.85"/><circle cx="548.4" cy="90.2" r="1.85"/><circle cx="550.8" cy="90.2" r="1.85"/><circle cx="553.2" cy="90.2" r="1.85"/><circle cx="555.6" cy="90.2" r="1.85"/><circle cx="558.0" cy="90.2" r="1.85"/><circle cx="560.5" cy="90.2" r="1.85"/><circle cx="562.9" cy="90.2" r="1.85"/><circle cx="565.3" cy="90.2" r="1.85"/><circle cx="567.7" cy="90.2" r="1.85"/><circle cx="570.1" cy="90.2" r="1.85"/><circle cx="573.0" cy="90.2" r="1.85"/><circle cx="575.9" cy="90.2" r="1.85"/><circle cx="578.3" cy="90.2" r="1.85"/><circle cx="538.2" cy="92.6" r="1.85"/><circle cx="567.2" cy="92.1" r="1.85"/><circle cx="519.4" cy="94.5" r="1.85"/><circle cx="525.2" cy="95.5" r="1.85"/><circle cx="526.6" cy="96.9" r="1.85"/><circle cx="524.7" cy="97.9" r="1.85"/><circle cx="534.8" cy="96.4" r="1.85"/><circle cx="521.3" cy="99.3" r="1.85"/><circle cx="520.8" cy="101.3" r="1.85"/><circle cx="523.7" cy="101.8" r="1.85"/><circle cx="521.8" cy="105.6" r="1.85"/><circle cx="527.1" cy="105.6" r="1.85"/><circle cx="529.5" cy="105.6" r="1.85"/><circle cx="531.9" cy="105.6" r="1.85"/><circle cx="534.3" cy="105.6" r="1.85"/><circle cx="521.8" cy="107.6" r="1.85"/><circle cx="522.3" cy="111.4" r="1.85"/><circle cx="524.2" cy="111.4" r="1.85"/><circle cx="548.4" cy="116.3" r="1.85"/><circle cx="546.9" cy="118.7" r="1.85"/><circle cx="538.2" cy="119.7" r="1.85"/><circle cx="580.4" cy="90.2" r="1.85"/><circle cx="582.8" cy="90.2" r="1.85"/><circle cx="585.2" cy="90.2" r="1.85"/><circle cx="587.6" cy="90.2" r="1.85"/><circle cx="590.1" cy="90.2" r="1.85"/><circle cx="592.5" cy="90.2" r="1.85"/><circle cx="594.9" cy="90.2" r="1.85"/><circle cx="597.3" cy="90.2" r="1.85"/><circle cx="599.7" cy="90.2" r="1.85"/><circle cx="603.1" cy="90.2" r="1.85"/><circle cx="605.5" cy="90.2" r="1.85"/><circle cx="607.9" cy="90.2" r="1.85"/><circle cx="612.8" cy="90.2" r="1.85"/><circle cx="615.2" cy="90.2" r="1.85"/><circle cx="618.6" cy="90.2" r="1.85"/><circle cx="621.0" cy="90.2" r="1.85"/><circle cx="623.4" cy="90.2" r="1.85"/><circle cx="627.3" cy="90.2" r="1.85"/><circle cx="629.7" cy="90.2" r="1.85"/><circle cx="635.0" cy="90.2" r="1.85"/><circle cx="589.6" cy="93.5" r="1.85"/><circle cx="590.5" cy="96.0" r="1.85"/><circle cx="591.5" cy="97.9" r="1.85"/><circle cx="589.1" cy="97.9" r="1.85"/><circle cx="603.1" cy="94.5" r="1.85"/><circle cx="605.0" cy="96.0" r="1.85"/><circle cx="604.1" cy="98.4" r="1.85"/><circle cx="613.3" cy="94.5" r="1.85"/><circle cx="615.7" cy="94.5" r="1.85"/><circle cx="618.6" cy="95.0" r="1.85"/><circle cx="624.4" cy="95.5" r="1.85"/><circle cx="626.3" cy="96.4" r="1.85"/><circle cx="629.7" cy="94.5" r="1.85"/><circle cx="578.9" cy="97.9" r="1.85"/><circle cx="580.4" cy="99.3" r="1.85"/><circle cx="583.3" cy="100.8" r="1.85"/><circle cx="596.3" cy="98.9" r="1.85"/><circle cx="600.2" cy="99.3" r="1.85"/><circle cx="603.1" cy="99.3" r="1.85"/><circle cx="612.8" cy="99.3" r="1.85"/><circle cx="615.2" cy="99.3" r="1.85"/><circle cx="617.6" cy="99.8" r="1.85"/><circle cx="620.0" cy="100.3" r="1.85"/><circle cx="634.1" cy="99.3" r="1.85"/><circle cx="635.0" cy="101.8" r="1.85"/><circle cx="633.1" cy="102.2" r="1.85"/><circle cx="593.4" cy="101.8" r="1.85"/><circle cx="607.9" cy="101.8" r="1.85"/><circle cx="608.9" cy="104.2" r="1.85"/><circle cx="610.8" cy="105.6" r="1.85"/><circle cx="621.5" cy="102.2" r="1.85"/><circle cx="623.4" cy="104.2" r="1.85"/><circle cx="625.4" cy="101.8" r="1.85"/><circle cx="582.8" cy="105.6" r="1.85"/><circle cx="585.7" cy="105.6" r="1.85"/><circle cx="588.6" cy="105.6" r="1.85"/><circle cx="591.5" cy="105.6" r="1.85"/><circle cx="594.4" cy="105.6" r="1.85"/><circle cx="597.3" cy="105.6" r="1.85"/><circle cx="599.7" cy="105.6" r="1.85"/><circle cx="592.5" cy="108.0" r="1.85"/><circle cx="599.2" cy="108.0" r="1.85"/><circle cx="607.9" cy="106.1" r="1.85"/><circle cx="618.6" cy="106.6" r="1.85"/><circle cx="622.5" cy="105.6" r="1.85"/><circle cx="625.4" cy="106.1" r="1.85"/><circle cx="628.3" cy="105.6" r="1.85"/><circle cx="631.2" cy="106.1" r="1.85"/><circle cx="634.1" cy="106.6" r="1.85"/><circle cx="614.2" cy="108.5" r="1.85"/><circle cx="625.4" cy="109.0" r="1.85"/><circle cx="596.3" cy="110.5" r="1.85"/><circle cx="598.8" cy="113.4" r="1.85"/><circle cx="629.7" cy="111.0" r="1.85"/><circle cx="578.5" cy="111.9" r="1.85"/><circle cx="582.8" cy="114.3" r="1.85"/><circle cx="621.0" cy="113.4" r="1.85"/><circle cx="592.5" cy="119.7" r="1.85"/><circle cx="619.6" cy="119.2" r="1.85"/><circle cx="591.3" cy="109.0" r="1.85"/><circle cx="545.9" cy="120.0" r="1.85"/><circle cx="539.1" cy="121.0" r="1.85"/><circle cx="576.8" cy="123.5" r="1.85"/><circle cx="592.3" cy="121.0" r="1.85"/><circle cx="617.4" cy="122.1" r="1.85"/><circle cx="552.6" cy="126.4" r="1.85"/><circle cx="572.4" cy="126.8" r="1.85"/><circle cx="600.0" cy="126.0" r="1.85"/><circle cx="543.5" cy="132.8" r="1.85"/><circle cx="540.1" cy="136.4" r="1.85"/><circle cx="558.0" cy="132.8" r="1.85"/><circle cx="539.8" cy="93.5" r="1.85"/><circle cx="536.8" cy="98.5" r="1.85"/><circle cx="546.3" cy="96.5" r="1.85"/><circle cx="545.1" cy="98.0" r="1.85"/><circle cx="548.1" cy="97.7" r="1.85"/><circle cx="544.5" cy="100.9" r="1.85"/><circle cx="546.9" cy="99.7" r="1.85"/><circle cx="549.3" cy="99.7" r="1.85"/><circle cx="548.7" cy="101.5" r="1.85"/><circle cx="552.9" cy="94.4" r="1.85"/><circle cx="558.5" cy="95.3" r="1.85"/><circle cx="556.4" cy="100.9" r="1.85"/><circle cx="558.8" cy="99.7" r="1.85"/><circle cx="561.2" cy="98.5" r="1.85"/><circle cx="566.0" cy="99.7" r="1.85"/><circle cx="567.1" cy="102.1" r="1.85"/><circle cx="565.4" cy="102.1" r="1.85"/><circle cx="536.8" cy="105.4" r="1.85"/><circle cx="538.3" cy="105.4" r="1.85"/><circle cx="543.3" cy="106.3" r="1.85"/><circle cx="545.1" cy="104.8" r="1.85"/><circle cx="546.9" cy="106.3" r="1.85"/><circle cx="543.9" cy="108.1" r="1.85"/><circle cx="546.3" cy="108.7" r="1.85"/><circle cx="549.9" cy="103.9" r="1.85"/><circle cx="551.7" cy="106.3" r="1.85"/><circle cx="552.9" cy="104.5" r="1.85"/><circle cx="553.5" cy="106.9" r="1.85"/><circle cx="550.5" cy="108.1" r="1.85"/><circle cx="551.7" cy="109.0" r="1.85"/><circle cx="557.0" cy="105.7" r="1.85"/><circle cx="559.4" cy="104.5" r="1.85"/><circle cx="560.6" cy="102.7" r="1.85"/><circle cx="558.8" cy="108.1" r="1.85"/><circle cx="558.2" cy="109.9" r="1.85"/><circle cx="561.8" cy="106.3" r="1.85"/><circle cx="564.2" cy="106.9" r="1.85"/><circle cx="568.3" cy="106.9" r="1.85"/><circle cx="570.1" cy="107.2" r="1.85"/><circle cx="571.9" cy="105.7" r="1.85"/><circle cx="573.1" cy="103.9" r="1.85"/><circle cx="573.7" cy="100.9" r="1.85"/><circle cx="573.1" cy="98.5" r="1.85"/><circle cx="574.3" cy="96.2" r="1.85"/><circle cx="546.3" cy="110.5" r="1.85"/><circle cx="563.6" cy="111.0" r="1.85"/><circle cx="543.9" cy="112.8" r="1.85"/><circle cx="550.5" cy="112.8" r="1.85"/><circle cx="555.2" cy="112.8" r="1.85"/><circle cx="568.9" cy="112.8" r="1.85"/><circle cx="549.4" cy="78.1" r="1.85"/><circle cx="545.7" cy="76.4" r="1.85"/><circle cx="534.8" cy="78.4" r="1.85"/><circle cx="539.9" cy="76.2" r="1.85"/><circle cx="535.6" cy="78.8" r="1.85"/><circle cx="527.6" cy="76.5" r="1.85"/><circle cx="529.9" cy="78.2" r="1.85"/><circle cx="549.4" cy="76.3" r="1.85"/><circle cx="524.6" cy="76.6" r="1.85"/><circle cx="530.8" cy="77.6" r="1.85"/><circle cx="524.8" cy="76.9" r="1.85"/><circle cx="525.8" cy="79.1" r="1.85"/><circle cx="628.6" cy="74.8" r="1.85"/><circle cx="634.5" cy="74.8" r="1.85"/><circle cx="619.8" cy="85.8" r="1.85"/><circle cx="630.3" cy="82.7" r="1.85"/><circle cx="621.1" cy="76.0" r="1.85"/><circle cx="626.3" cy="74.8" r="1.85"/><circle cx="615.3" cy="78.4" r="1.85"/><circle cx="610.9" cy="78.5" r="1.85"/><circle cx="630.2" cy="82.2" r="1.85"/><circle cx="622.8" cy="81.4" r="1.85"/><circle cx="621.8" cy="75.3" r="1.85"/><circle cx="625.4" cy="78.6" r="1.85"/><circle cx="628.9" cy="84.9" r="1.85"/><circle cx="621.0" cy="80.7" r="1.85"/><circle cx="629.1" cy="78.8" r="1.85"/><circle cx="615.8" cy="82.5" r="1.85"/><circle cx="632.4" cy="83.2" r="1.85"/><circle cx="627.9" cy="84.2" r="1.85"/><circle cx="627.3" cy="81.5" r="1.85"/><circle cx="621.6" cy="77.4" r="1.85"/><circle cx="626.0" cy="74.7" r="1.85"/><circle cx="620.7" cy="83.3" r="1.85"/><circle cx="628.2" cy="81.4" r="1.85"/><circle cx="616.4" cy="78.8" r="1.85"/><circle cx="621.6" cy="81.3" r="1.85"/><circle cx="620.4" cy="81.9" r="1.85"/><circle cx="633.7" cy="75.8" r="1.85"/><circle cx="626.7" cy="83.2" r="1.85"/><circle cx="619.9" cy="79.6" r="1.85"/><circle cx="634.9" cy="74.0" r="1.85"/><circle cx="623.9" cy="75.5" r="1.85"/><circle cx="629.9" cy="85.3" r="1.85"/><circle cx="623.2" cy="74.8" r="1.85"/><circle cx="624.7" cy="80.3" r="1.85"/><circle cx="628.3" cy="79.9" r="1.85"/><circle cx="626.3" cy="83.9" r="1.85"/><circle cx="608.0" cy="82.9" r="1.85"/><circle cx="632.5" cy="81.5" r="1.85"/><circle cx="617.4" cy="82.7" r="1.85"/><circle cx="621.9" cy="80.9" r="1.85"/><circle cx="634.6" cy="82.5" r="1.85"/><circle cx="581.3" cy="81.9" r="1.85"/><circle cx="601.0" cy="80.1" r="1.85"/><circle cx="602.1" cy="82.9" r="1.85"/><circle cx="618.1" cy="82.5" r="1.85"/><circle cx="593.2" cy="81.6" r="1.85"/><circle cx="620.6" cy="86.6" r="1.85"/><circle cx="608.3" cy="81.5" r="1.85"/><circle cx="624.1" cy="82.7" r="1.85"/><circle cx="590.2" cy="80.9" r="1.85"/><circle cx="622.7" cy="85.7" r="1.85"/><circle cx="614.5" cy="83.3" r="1.85"/><circle cx="610.3" cy="81.6" r="1.85"/><circle cx="633.4" cy="82.5" r="1.85"/><circle cx="614.7" cy="85.7" r="1.85"/><circle cx="624.9" cy="83.3" r="1.85"/><circle cx="594.9" cy="83.8" r="1.85"/><circle cx="585.2" cy="85.8" r="1.85"/><circle cx="598.4" cy="86.0" r="1.85"/><circle cx="593.4" cy="82.6" r="1.85"/><circle cx="592.6" cy="83.0" r="1.85"/><circle cx="588.7" cy="80.0" r="1.85"/><circle cx="619.5" cy="82.0" r="1.85"/><circle cx="592.1" cy="82.1" r="1.85"/><circle cx="605.6" cy="83.0" r="1.85"/><circle cx="614.6" cy="84.6" r="1.85"/></g><g fill="#000"><rect x="137.9" y="328.4" width="6.4" height="6.4"/><rect x="283.4" y="241.0" width="6.4" height="6.4"/><rect x="428.8" y="135.6" width="6.4" height="6.4"/><rect x="574.4" y="103.6" width="6.4" height="6.4"/></g><g stroke="#333333" stroke-width="1.42"><line x1="50.33" x2="54.0" y1="67.00" y2="67.00"/><line x1="50.33" x2="54.0" y1="180.60" y2="180.60"/><line x1="50.33" x2="54.0" y1="294.20" y2="294.20"/><line x1="50.33" x2="54.0" y1="407.80" y2="407.80"/><line x1="141.10" x2="141.10" y1="437.8" y2="441.47"/><line x1="286.53" x2="286.53" y1="437.8" y2="441.47"/><line x1="431.96" x2="431.96" y1="437.8" y2="441.47"/><line x1="577.39" x2="577.39" y1="437.8" y2="441.47"/></g><g font-size="11.73" fill="#444444"><text x="47.4" y="71.80" text-anchor="end">0.60</text><text x="47.4" y="185.40" text-anchor="end">0.55</text><text x="47.4" y="299.00" text-anchor="end">0.50</text><text x="47.4" y="412.60" text-anchor="end">0.45</text><text x="141.10" y="453.0" text-anchor="middle">1</text><text x="286.53" y="453.0" text-anchor="middle">2</text><text x="431.96" y="453.0" text-anchor="middle">3</text><text x="577.39" y="453.0" text-anchor="middle">4</text></g><text x="53.5" y="19.9" font-size="17.6" fill="#000">Democratic vote share by district</text><text x="359.3" y="470" font-size="14.67" fill="#000" text-anchor="middle">Ordered district</text><text transform="translate(17.7 235.0) rotate(-90)" x="0" y="0" font-size="14.67" fill="#000" text-anchor="middle">Democratic vote</text></svg></body></html>
